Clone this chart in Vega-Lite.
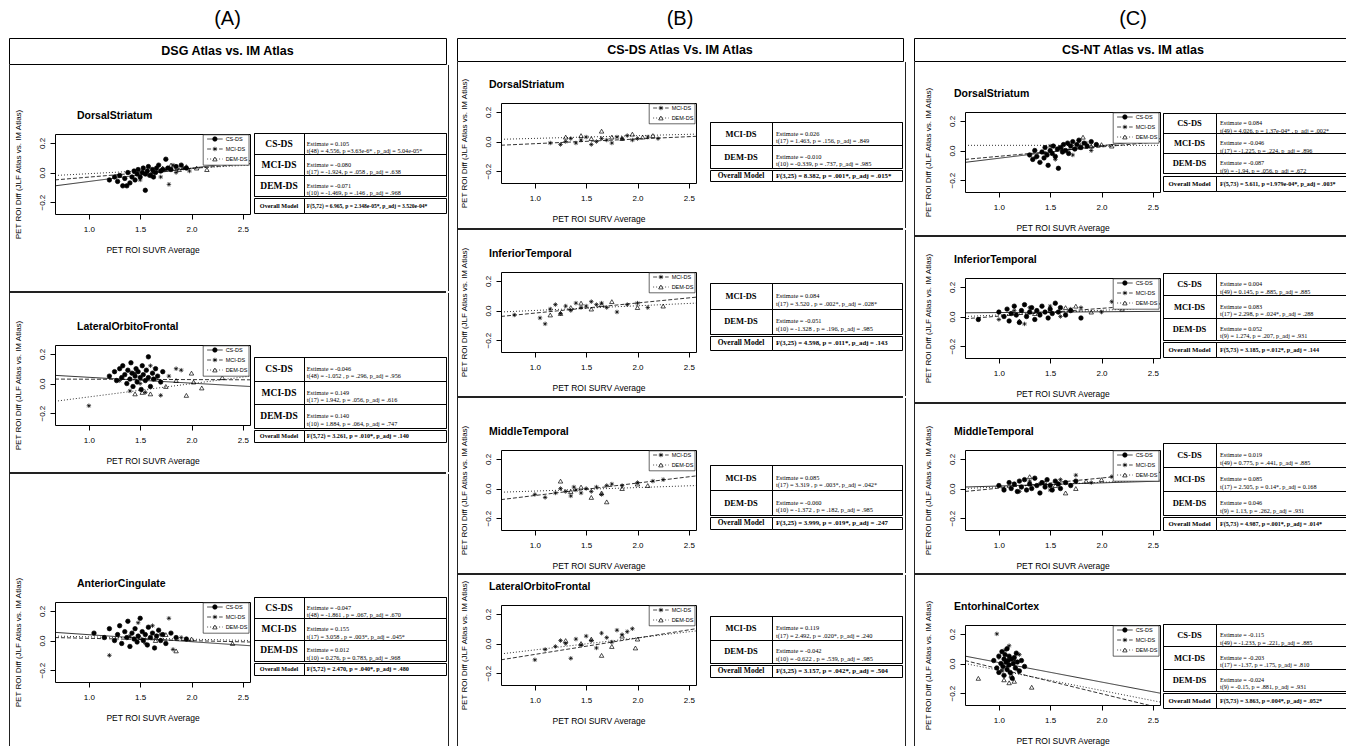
{
"$schema":"https://vega.github.io/schema/vega-lite/v6.json",
"padding":0,
"background":"white",
"config":{
 "view":{"stroke":null},
 "font":"Liberation Sans",
 "concat":{"spacing":0},
 "axis":{"domain":false,"grid":false,"labelColor":"black","tickColor":"black","titleColor":"black","labelFont":"Liberation Sans","titleFont":"Liberation Sans","titleFontWeight":"normal","labelFontSize":8,"titleFontSize":8,"tickSize":5,"labelPadding":4,"titlePadding":12,"labelFlush":false,"minExtent":0},
 "title":{"fontSize":10.5,"fontWeight":"bold","anchor":"start","frame":"group","offset":0,"color":"black","font":"Liberation Sans"},
 "point":{"opacity":1,"size":20,"strokeWidth":0.7},
 "line":{"strokeWidth":0.8,"color":"black"},
 "rule":{"color":"black"},
 "text":{"color":"black"}
},
"datasets":{
"leg":[
{"p":"A1","g":"CS-DS"},{"p":"A1","g":"MCI-DS"},{"p":"A1","g":"DEM-DS"},
{"p":"A2","g":"CS-DS"},{"p":"A2","g":"MCI-DS"},{"p":"A2","g":"DEM-DS"},
{"p":"A3","g":"CS-DS"},{"p":"A3","g":"MCI-DS"},{"p":"A3","g":"DEM-DS"},
{"p":"B1","g":"MCI-DS"},{"p":"B1","g":"DEM-DS"},
{"p":"B2","g":"MCI-DS"},{"p":"B2","g":"DEM-DS"},
{"p":"B3","g":"MCI-DS"},{"p":"B3","g":"DEM-DS"},
{"p":"B4","g":"MCI-DS"},{"p":"B4","g":"DEM-DS"},
{"p":"C1","g":"CS-DS"},{"p":"C1","g":"MCI-DS"},{"p":"C1","g":"DEM-DS"},
{"p":"C2","g":"CS-DS"},{"p":"C2","g":"MCI-DS"},{"p":"C2","g":"DEM-DS"},
{"p":"C3","g":"CS-DS"},{"p":"C3","g":"MCI-DS"},{"p":"C3","g":"DEM-DS"},
{"p":"C4","g":"CS-DS"},{"p":"C4","g":"MCI-DS"},{"p":"C4","g":"DEM-DS"}
],
"lns":[
{"p":"A1","g":"CS-DS","x":0.67,"y":-0.09},{"p":"A1","g":"CS-DS","x":2.57,"y":0.08},
{"p":"A1","g":"MCI-DS","x":0.67,"y":-0.05},{"p":"A1","g":"MCI-DS","x":2.57,"y":0.06},
{"p":"A1","g":"DEM-DS","x":0.67,"y":-0.02},{"p":"A1","g":"DEM-DS","x":2.57,"y":0.05},
{"p":"A2","g":"CS-DS","x":0.67,"y":0.055},{"p":"A2","g":"CS-DS","x":2.57,"y":-0.02},
{"p":"A2","g":"MCI-DS","x":0.67,"y":0.03},{"p":"A2","g":"MCI-DS","x":2.57,"y":0.025},
{"p":"A2","g":"DEM-DS","x":0.67,"y":-0.12},{"p":"A2","g":"DEM-DS","x":2.57,"y":0.05},
{"p":"A3","g":"CS-DS","x":0.67,"y":0.055},{"p":"A3","g":"CS-DS","x":2.57,"y":-0.035},
{"p":"A3","g":"MCI-DS","x":0.67,"y":0.02},{"p":"A3","g":"MCI-DS","x":2.57,"y":-0.01},
{"p":"A3","g":"DEM-DS","x":0.67,"y":0.03},{"p":"A3","g":"DEM-DS","x":2.57,"y":0.0},
{"p":"B1","g":"MCI-DS","x":0.67,"y":-0.025},{"p":"B1","g":"MCI-DS","x":2.57,"y":0.035},
{"p":"B1","g":"DEM-DS","x":0.67,"y":0.015},{"p":"B1","g":"DEM-DS","x":2.57,"y":0.05},
{"p":"B2","g":"MCI-DS","x":0.67,"y":-0.04},{"p":"B2","g":"MCI-DS","x":2.57,"y":0.09},
{"p":"B2","g":"DEM-DS","x":0.67,"y":-0.01},{"p":"B2","g":"DEM-DS","x":2.57,"y":0.05},
{"p":"B3","g":"MCI-DS","x":0.67,"y":-0.075},{"p":"B3","g":"MCI-DS","x":2.57,"y":0.085},
{"p":"B3","g":"DEM-DS","x":0.67,"y":-0.025},{"p":"B3","g":"DEM-DS","x":2.57,"y":0.02},
{"p":"B4","g":"MCI-DS","x":0.67,"y":-0.11},{"p":"B4","g":"MCI-DS","x":2.57,"y":0.1},
{"p":"B4","g":"DEM-DS","x":0.67,"y":-0.07},{"p":"B4","g":"DEM-DS","x":2.57,"y":0.085},
{"p":"C1","g":"CS-DS","x":0.67,"y":-0.08},{"p":"C1","g":"CS-DS","x":2.57,"y":0.08},
{"p":"C1","g":"MCI-DS","x":0.67,"y":-0.06},{"p":"C1","g":"MCI-DS","x":2.57,"y":0.06},
{"p":"C1","g":"DEM-DS","x":0.67,"y":0.035},{"p":"C1","g":"DEM-DS","x":2.57,"y":0.035},
{"p":"C2","g":"CS-DS","x":0.67,"y":0.025},{"p":"C2","g":"CS-DS","x":2.57,"y":0.035},
{"p":"C2","g":"MCI-DS","x":0.67,"y":-0.015},{"p":"C2","g":"MCI-DS","x":2.57,"y":0.085},
{"p":"C2","g":"DEM-DS","x":0.67,"y":0.0},{"p":"C2","g":"DEM-DS","x":2.57,"y":0.06},
{"p":"C3","g":"CS-DS","x":0.67,"y":0.01},{"p":"C3","g":"CS-DS","x":2.57,"y":0.05},
{"p":"C3","g":"MCI-DS","x":0.67,"y":-0.02},{"p":"C3","g":"MCI-DS","x":2.57,"y":0.11},
{"p":"C3","g":"DEM-DS","x":0.67,"y":0.0},{"p":"C3","g":"DEM-DS","x":2.57,"y":0.06},
{"p":"C4","g":"CS-DS","x":0.67,"y":0.05},{"p":"C4","g":"CS-DS","x":2.57,"y":-0.2},
{"p":"C4","g":"MCI-DS","x":0.67,"y":0.02},{"p":"C4","g":"MCI-DS","x":2.57,"y":-0.3},
{"p":"C4","g":"DEM-DS","x":0.67,"y":0.0},{"p":"C4","g":"DEM-DS","x":2.57,"y":-0.26}
],
"pts":[
{"p":"A1","g":"CS-DS","x":1.2,"y":-0.05},{"p":"A1","g":"CS-DS","x":1.25,"y":-0.03},{"p":"A1","g":"CS-DS","x":1.28,"y":-0.06},{"p":"A1","g":"CS-DS","x":1.3,"y":-0.02},{"p":"A1","g":"CS-DS","x":1.33,"y":-0.09},{"p":"A1","g":"CS-DS","x":1.35,"y":-0.04},{"p":"A1","g":"CS-DS","x":1.37,"y":-0.09},{"p":"A1","g":"CS-DS","x":1.38,"y":0.0},{"p":"A1","g":"CS-DS","x":1.4,"y":-0.07},{"p":"A1","g":"CS-DS","x":1.42,"y":-0.03},{"p":"A1","g":"CS-DS","x":1.44,"y":0.01},{"p":"A1","g":"CS-DS","x":1.45,"y":-0.05},{"p":"A1","g":"CS-DS","x":1.47,"y":-0.01},{"p":"A1","g":"CS-DS","x":1.48,"y":0.02},{"p":"A1","g":"CS-DS","x":1.5,"y":-0.03},{"p":"A1","g":"CS-DS","x":1.52,"y":0.0},{"p":"A1","g":"CS-DS","x":1.53,"y":0.03},{"p":"A1","g":"CS-DS","x":1.55,"y":-0.12},{"p":"A1","g":"CS-DS","x":1.55,"y":-0.01},{"p":"A1","g":"CS-DS","x":1.57,"y":0.01},{"p":"A1","g":"CS-DS","x":1.58,"y":0.04},{"p":"A1","g":"CS-DS","x":1.6,"y":-0.02},{"p":"A1","g":"CS-DS","x":1.62,"y":0.02},{"p":"A1","g":"CS-DS","x":1.63,"y":-0.03},{"p":"A1","g":"CS-DS","x":1.65,"y":0.0},{"p":"A1","g":"CS-DS","x":1.66,"y":0.03},{"p":"A1","g":"CS-DS","x":1.68,"y":0.05},{"p":"A1","g":"CS-DS","x":1.7,"y":0.01},{"p":"A1","g":"CS-DS","x":1.72,"y":0.02},{"p":"A1","g":"CS-DS","x":1.75,"y":0.09},{"p":"A1","g":"CS-DS","x":1.77,"y":0.03},{"p":"A1","g":"CS-DS","x":1.8,"y":0.02},{"p":"A1","g":"CS-DS","x":1.85,"y":0.04},{"p":"A1","g":"CS-DS","x":1.9,"y":0.05},{"p":"A1","g":"CS-DS","x":1.95,"y":0.03},
{"p":"A1","g":"MCI-DS","x":1.5,"y":-0.05},{"p":"A1","g":"MCI-DS","x":1.58,"y":-0.02},{"p":"A1","g":"MCI-DS","x":1.62,"y":0.0},{"p":"A1","g":"MCI-DS","x":1.7,"y":-0.03},{"p":"A1","g":"MCI-DS","x":1.75,"y":0.02},{"p":"A1","g":"MCI-DS","x":1.78,"y":-0.08},{"p":"A1","g":"MCI-DS","x":1.82,"y":0.05},{"p":"A1","g":"MCI-DS","x":1.85,"y":0.0},{"p":"A1","g":"MCI-DS","x":1.92,"y":0.03},{"p":"A1","g":"MCI-DS","x":1.98,"y":0.01},
{"p":"A1","g":"DEM-DS","x":1.72,"y":0.03},{"p":"A1","g":"DEM-DS","x":1.8,"y":0.05},{"p":"A1","g":"DEM-DS","x":1.88,"y":0.02},{"p":"A1","g":"DEM-DS","x":1.95,"y":0.04},{"p":"A1","g":"DEM-DS","x":2.05,"y":0.03},{"p":"A1","g":"DEM-DS","x":2.15,"y":0.02},
{"p":"A2","g":"CS-DS","x":1.2,"y":0.05},{"p":"A2","g":"CS-DS","x":1.25,"y":0.08},{"p":"A2","g":"CS-DS","x":1.27,"y":0.02},{"p":"A2","g":"CS-DS","x":1.3,"y":0.1},{"p":"A2","g":"CS-DS","x":1.32,"y":0.04},{"p":"A2","g":"CS-DS","x":1.33,"y":0.12},{"p":"A2","g":"CS-DS","x":1.35,"y":0.06},{"p":"A2","g":"CS-DS","x":1.37,"y":0.0},{"p":"A2","g":"CS-DS","x":1.38,"y":0.09},{"p":"A2","g":"CS-DS","x":1.4,"y":0.03},{"p":"A2","g":"CS-DS","x":1.41,"y":0.14},{"p":"A2","g":"CS-DS","x":1.42,"y":0.07},{"p":"A2","g":"CS-DS","x":1.43,"y":-0.02},{"p":"A2","g":"CS-DS","x":1.45,"y":0.05},{"p":"A2","g":"CS-DS","x":1.46,"y":0.1},{"p":"A2","g":"CS-DS","x":1.47,"y":0.01},{"p":"A2","g":"CS-DS","x":1.48,"y":0.08},{"p":"A2","g":"CS-DS","x":1.5,"y":0.04},{"p":"A2","g":"CS-DS","x":1.51,"y":-0.04},{"p":"A2","g":"CS-DS","x":1.52,"y":0.12},{"p":"A2","g":"CS-DS","x":1.53,"y":0.06},{"p":"A2","g":"CS-DS","x":1.55,"y":0.02},{"p":"A2","g":"CS-DS","x":1.56,"y":0.09},{"p":"A2","g":"CS-DS","x":1.58,"y":0.18},{"p":"A2","g":"CS-DS","x":1.58,"y":0.04},{"p":"A2","g":"CS-DS","x":1.6,"y":-0.02},{"p":"A2","g":"CS-DS","x":1.62,"y":0.07},{"p":"A2","g":"CS-DS","x":1.63,"y":0.03},{"p":"A2","g":"CS-DS","x":1.65,"y":0.1},{"p":"A2","g":"CS-DS","x":1.67,"y":0.05},{"p":"A2","g":"CS-DS","x":1.7,"y":0.01},{"p":"A2","g":"CS-DS","x":1.72,"y":0.08},
{"p":"A2","g":"MCI-DS","x":1.0,"y":-0.15},{"p":"A2","g":"MCI-DS","x":1.3,"y":0.02},{"p":"A2","g":"MCI-DS","x":1.4,"y":-0.05},{"p":"A2","g":"MCI-DS","x":1.45,"y":0.07},{"p":"A2","g":"MCI-DS","x":1.5,"y":0.0},{"p":"A2","g":"MCI-DS","x":1.55,"y":-0.06},{"p":"A2","g":"MCI-DS","x":1.6,"y":0.12},{"p":"A2","g":"MCI-DS","x":1.65,"y":0.03},{"p":"A2","g":"MCI-DS","x":1.7,"y":-0.08},{"p":"A2","g":"MCI-DS","x":1.78,"y":0.05},{"p":"A2","g":"MCI-DS","x":1.85,"y":0.1},{"p":"A2","g":"MCI-DS","x":1.9,"y":0.09},
{"p":"A2","g":"DEM-DS","x":1.45,"y":-0.07},{"p":"A2","g":"DEM-DS","x":1.52,"y":-0.06},{"p":"A2","g":"DEM-DS","x":1.6,"y":-0.07},{"p":"A2","g":"DEM-DS","x":1.75,"y":-0.02},{"p":"A2","g":"DEM-DS","x":1.85,"y":0.02},{"p":"A2","g":"DEM-DS","x":1.95,"y":-0.08},{"p":"A2","g":"DEM-DS","x":2.0,"y":0.07},{"p":"A2","g":"DEM-DS","x":2.02,"y":0.01},{"p":"A2","g":"DEM-DS","x":2.1,"y":-0.03},{"p":"A2","g":"DEM-DS","x":2.3,"y":0.04},
{"p":"A3","g":"CS-DS","x":1.05,"y":0.05},{"p":"A3","g":"CS-DS","x":1.15,"y":0.02},{"p":"A3","g":"CS-DS","x":1.2,"y":0.08},{"p":"A3","g":"CS-DS","x":1.25,"y":0.0},{"p":"A3","g":"CS-DS","x":1.28,"y":0.04},{"p":"A3","g":"CS-DS","x":1.3,"y":0.1},{"p":"A3","g":"CS-DS","x":1.32,"y":-0.02},{"p":"A3","g":"CS-DS","x":1.35,"y":0.06},{"p":"A3","g":"CS-DS","x":1.37,"y":0.02},{"p":"A3","g":"CS-DS","x":1.38,"y":0.13},{"p":"A3","g":"CS-DS","x":1.4,"y":-0.04},{"p":"A3","g":"CS-DS","x":1.42,"y":0.05},{"p":"A3","g":"CS-DS","x":1.44,"y":0.01},{"p":"A3","g":"CS-DS","x":1.45,"y":0.08},{"p":"A3","g":"CS-DS","x":1.47,"y":-0.01},{"p":"A3","g":"CS-DS","x":1.48,"y":0.03},{"p":"A3","g":"CS-DS","x":1.5,"y":0.15},{"p":"A3","g":"CS-DS","x":1.52,"y":0.06},{"p":"A3","g":"CS-DS","x":1.53,"y":0.0},{"p":"A3","g":"CS-DS","x":1.55,"y":0.04},{"p":"A3","g":"CS-DS","x":1.57,"y":-0.03},{"p":"A3","g":"CS-DS","x":1.58,"y":0.09},{"p":"A3","g":"CS-DS","x":1.6,"y":0.02},{"p":"A3","g":"CS-DS","x":1.62,"y":0.05},{"p":"A3","g":"CS-DS","x":1.64,"y":-0.05},{"p":"A3","g":"CS-DS","x":1.66,"y":0.03},{"p":"A3","g":"CS-DS","x":1.68,"y":0.07},{"p":"A3","g":"CS-DS","x":1.7,"y":0.0},{"p":"A3","g":"CS-DS","x":1.72,"y":0.04},{"p":"A3","g":"CS-DS","x":1.75,"y":-0.02},{"p":"A3","g":"CS-DS","x":1.8,"y":0.05},{"p":"A3","g":"CS-DS","x":1.85,"y":0.02},{"p":"A3","g":"CS-DS","x":1.95,"y":0.01},
{"p":"A3","g":"MCI-DS","x":1.2,"y":-0.1},{"p":"A3","g":"MCI-DS","x":1.4,"y":0.03},{"p":"A3","g":"MCI-DS","x":1.48,"y":0.12},{"p":"A3","g":"MCI-DS","x":1.55,"y":-0.02},{"p":"A3","g":"MCI-DS","x":1.62,"y":0.1},{"p":"A3","g":"MCI-DS","x":1.7,"y":0.04},{"p":"A3","g":"MCI-DS","x":1.78,"y":0.15},{"p":"A3","g":"MCI-DS","x":1.82,"y":-0.06},{"p":"A3","g":"MCI-DS","x":1.9,"y":0.02},{"p":"A3","g":"MCI-DS","x":2.2,"y":0.09},
{"p":"A3","g":"DEM-DS","x":1.5,"y":0.02},{"p":"A3","g":"DEM-DS","x":1.65,"y":0.0},{"p":"A3","g":"DEM-DS","x":1.75,"y":0.04},{"p":"A3","g":"DEM-DS","x":1.85,"y":-0.07},{"p":"A3","g":"DEM-DS","x":2.0,"y":0.01},{"p":"A3","g":"DEM-DS","x":2.4,"y":-0.02},
{"p":"B1","g":"MCI-DS","x":1.15,"y":-0.01},{"p":"B1","g":"MCI-DS","x":1.25,"y":-0.02},{"p":"B1","g":"MCI-DS","x":1.3,"y":0.0},{"p":"B1","g":"MCI-DS","x":1.35,"y":0.02},{"p":"B1","g":"MCI-DS","x":1.4,"y":-0.01},{"p":"B1","g":"MCI-DS","x":1.45,"y":0.01},{"p":"B1","g":"MCI-DS","x":1.5,"y":0.03},{"p":"B1","g":"MCI-DS","x":1.55,"y":-0.02},{"p":"B1","g":"MCI-DS","x":1.6,"y":0.0},{"p":"B1","g":"MCI-DS","x":1.65,"y":0.02},{"p":"B1","g":"MCI-DS","x":1.7,"y":0.01},{"p":"B1","g":"MCI-DS","x":1.75,"y":-0.01},{"p":"B1","g":"MCI-DS","x":1.8,"y":0.03},{"p":"B1","g":"MCI-DS","x":1.85,"y":0.02},{"p":"B1","g":"MCI-DS","x":1.9,"y":0.04},{"p":"B1","g":"MCI-DS","x":1.95,"y":0.01},{"p":"B1","g":"MCI-DS","x":2.0,"y":0.02},{"p":"B1","g":"MCI-DS","x":2.1,"y":0.03},{"p":"B1","g":"MCI-DS","x":2.2,"y":0.02},
{"p":"B1","g":"DEM-DS","x":1.3,"y":0.03},{"p":"B1","g":"DEM-DS","x":1.45,"y":0.04},{"p":"B1","g":"DEM-DS","x":1.55,"y":0.02},{"p":"B1","g":"DEM-DS","x":1.65,"y":0.07},{"p":"B1","g":"DEM-DS","x":1.75,"y":0.03},{"p":"B1","g":"DEM-DS","x":1.85,"y":0.02},{"p":"B1","g":"DEM-DS","x":1.95,"y":0.05},{"p":"B1","g":"DEM-DS","x":2.05,"y":0.03},{"p":"B1","g":"DEM-DS","x":2.15,"y":0.04},
{"p":"B2","g":"MCI-DS","x":0.8,"y":-0.03},{"p":"B2","g":"MCI-DS","x":1.05,"y":-0.05},{"p":"B2","g":"MCI-DS","x":1.1,"y":-0.09},{"p":"B2","g":"MCI-DS","x":1.15,"y":0.01},{"p":"B2","g":"MCI-DS","x":1.2,"y":0.04},{"p":"B2","g":"MCI-DS","x":1.25,"y":-0.02},{"p":"B2","g":"MCI-DS","x":1.3,"y":0.03},{"p":"B2","g":"MCI-DS","x":1.35,"y":0.0},{"p":"B2","g":"MCI-DS","x":1.4,"y":0.05},{"p":"B2","g":"MCI-DS","x":1.45,"y":0.02},{"p":"B2","g":"MCI-DS","x":1.5,"y":0.03},{"p":"B2","g":"MCI-DS","x":1.55,"y":0.06},{"p":"B2","g":"MCI-DS","x":1.6,"y":0.04},{"p":"B2","g":"MCI-DS","x":1.65,"y":0.05},{"p":"B2","g":"MCI-DS","x":1.7,"y":0.02},{"p":"B2","g":"MCI-DS","x":1.8,"y":-0.01},{"p":"B2","g":"MCI-DS","x":1.9,"y":0.04},{"p":"B2","g":"MCI-DS","x":2.0,"y":0.05},{"p":"B2","g":"MCI-DS","x":2.1,"y":0.02},
{"p":"B2","g":"DEM-DS","x":1.15,"y":-0.03},{"p":"B2","g":"DEM-DS","x":1.25,"y":-0.02},{"p":"B2","g":"DEM-DS","x":1.35,"y":0.02},{"p":"B2","g":"DEM-DS","x":1.45,"y":0.05},{"p":"B2","g":"DEM-DS","x":1.55,"y":0.01},{"p":"B2","g":"DEM-DS","x":1.65,"y":0.04},{"p":"B2","g":"DEM-DS","x":1.75,"y":0.06},{"p":"B2","g":"DEM-DS","x":2.0,"y":0.02},{"p":"B2","g":"DEM-DS","x":2.25,"y":0.03},
{"p":"B3","g":"MCI-DS","x":1.0,"y":-0.04},{"p":"B3","g":"MCI-DS","x":1.1,"y":-0.06},{"p":"B3","g":"MCI-DS","x":1.2,"y":-0.03},{"p":"B3","g":"MCI-DS","x":1.25,"y":0.0},{"p":"B3","g":"MCI-DS","x":1.3,"y":-0.02},{"p":"B3","g":"MCI-DS","x":1.35,"y":-0.05},{"p":"B3","g":"MCI-DS","x":1.38,"y":0.01},{"p":"B3","g":"MCI-DS","x":1.4,"y":-0.01},{"p":"B3","g":"MCI-DS","x":1.45,"y":-0.03},{"p":"B3","g":"MCI-DS","x":1.5,"y":0.0},{"p":"B3","g":"MCI-DS","x":1.55,"y":-0.02},{"p":"B3","g":"MCI-DS","x":1.6,"y":0.01},{"p":"B3","g":"MCI-DS","x":1.65,"y":-0.04},{"p":"B3","g":"MCI-DS","x":1.7,"y":0.02},{"p":"B3","g":"MCI-DS","x":1.75,"y":0.03},{"p":"B3","g":"MCI-DS","x":1.85,"y":0.02},{"p":"B3","g":"MCI-DS","x":2.0,"y":0.04},{"p":"B3","g":"MCI-DS","x":2.15,"y":0.05},{"p":"B3","g":"MCI-DS","x":2.25,"y":0.06},
{"p":"B3","g":"DEM-DS","x":1.25,"y":0.05},{"p":"B3","g":"DEM-DS","x":1.35,"y":-0.02},{"p":"B3","g":"DEM-DS","x":1.45,"y":0.01},{"p":"B3","g":"DEM-DS","x":1.55,"y":-0.06},{"p":"B3","g":"DEM-DS","x":1.65,"y":-0.03},{"p":"B3","g":"DEM-DS","x":1.7,"y":-0.09},{"p":"B3","g":"DEM-DS","x":1.85,"y":0.0},{"p":"B3","g":"DEM-DS","x":2.0,"y":0.03},{"p":"B3","g":"DEM-DS","x":2.1,"y":0.02},
{"p":"B4","g":"MCI-DS","x":1.0,"y":-0.11},{"p":"B4","g":"MCI-DS","x":1.1,"y":-0.04},{"p":"B4","g":"MCI-DS","x":1.2,"y":-0.02},{"p":"B4","g":"MCI-DS","x":1.25,"y":0.02},{"p":"B4","g":"MCI-DS","x":1.3,"y":0.0},{"p":"B4","g":"MCI-DS","x":1.35,"y":-0.1},{"p":"B4","g":"MCI-DS","x":1.4,"y":0.03},{"p":"B4","g":"MCI-DS","x":1.45,"y":-0.01},{"p":"B4","g":"MCI-DS","x":1.5,"y":0.05},{"p":"B4","g":"MCI-DS","x":1.55,"y":0.02},{"p":"B4","g":"MCI-DS","x":1.6,"y":-0.03},{"p":"B4","g":"MCI-DS","x":1.65,"y":0.07},{"p":"B4","g":"MCI-DS","x":1.7,"y":0.04},{"p":"B4","g":"MCI-DS","x":1.75,"y":0.01},{"p":"B4","g":"MCI-DS","x":1.8,"y":0.09},{"p":"B4","g":"MCI-DS","x":1.85,"y":0.06},{"p":"B4","g":"MCI-DS","x":1.9,"y":0.08},{"p":"B4","g":"MCI-DS","x":1.95,"y":0.1},
{"p":"B4","g":"DEM-DS","x":1.3,"y":0.02},{"p":"B4","g":"DEM-DS","x":1.45,"y":0.0},{"p":"B4","g":"DEM-DS","x":1.55,"y":0.03},{"p":"B4","g":"DEM-DS","x":1.65,"y":-0.08},{"p":"B4","g":"DEM-DS","x":1.75,"y":-0.02},{"p":"B4","g":"DEM-DS","x":1.85,"y":0.05},{"p":"B4","g":"DEM-DS","x":1.98,"y":-0.03},{"p":"B4","g":"DEM-DS","x":2.0,"y":0.03},
{"p":"C1","g":"CS-DS","x":1.3,"y":-0.03},{"p":"C1","g":"CS-DS","x":1.33,"y":-0.06},{"p":"C1","g":"CS-DS","x":1.35,"y":0.0},{"p":"C1","g":"CS-DS","x":1.37,"y":-0.04},{"p":"C1","g":"CS-DS","x":1.4,"y":-0.08},{"p":"C1","g":"CS-DS","x":1.42,"y":-0.01},{"p":"C1","g":"CS-DS","x":1.44,"y":-0.05},{"p":"C1","g":"CS-DS","x":1.45,"y":0.02},{"p":"C1","g":"CS-DS","x":1.47,"y":-0.03},{"p":"C1","g":"CS-DS","x":1.48,"y":-0.1},{"p":"C1","g":"CS-DS","x":1.5,"y":0.0},{"p":"C1","g":"CS-DS","x":1.52,"y":-0.02},{"p":"C1","g":"CS-DS","x":1.53,"y":0.03},{"p":"C1","g":"CS-DS","x":1.55,"y":-0.04},{"p":"C1","g":"CS-DS","x":1.57,"y":0.01},{"p":"C1","g":"CS-DS","x":1.58,"y":-0.12},{"p":"C1","g":"CS-DS","x":1.6,"y":0.02},{"p":"C1","g":"CS-DS","x":1.62,"y":-0.01},{"p":"C1","g":"CS-DS","x":1.63,"y":0.04},{"p":"C1","g":"CS-DS","x":1.65,"y":0.0},{"p":"C1","g":"CS-DS","x":1.67,"y":0.05},{"p":"C1","g":"CS-DS","x":1.68,"y":-0.02},{"p":"C1","g":"CS-DS","x":1.7,"y":0.03},{"p":"C1","g":"CS-DS","x":1.72,"y":0.06},{"p":"C1","g":"CS-DS","x":1.74,"y":0.01},{"p":"C1","g":"CS-DS","x":1.76,"y":0.04},{"p":"C1","g":"CS-DS","x":1.78,"y":0.07},{"p":"C1","g":"CS-DS","x":1.8,"y":0.02},{"p":"C1","g":"CS-DS","x":1.83,"y":0.05},{"p":"C1","g":"CS-DS","x":1.86,"y":0.03},{"p":"C1","g":"CS-DS","x":1.9,"y":0.06},{"p":"C1","g":"CS-DS","x":1.95,"y":0.04},
{"p":"C1","g":"MCI-DS","x":1.35,"y":-0.05},{"p":"C1","g":"MCI-DS","x":1.45,"y":-0.02},{"p":"C1","g":"MCI-DS","x":1.5,"y":0.03},{"p":"C1","g":"MCI-DS","x":1.55,"y":-0.06},{"p":"C1","g":"MCI-DS","x":1.62,"y":0.01},{"p":"C1","g":"MCI-DS","x":1.68,"y":0.04},{"p":"C1","g":"MCI-DS","x":1.72,"y":-0.03},{"p":"C1","g":"MCI-DS","x":1.78,"y":0.02},{"p":"C1","g":"MCI-DS","x":1.85,"y":0.05},{"p":"C1","g":"MCI-DS","x":1.9,"y":0.0},
{"p":"C1","g":"DEM-DS","x":1.7,"y":0.02},{"p":"C1","g":"DEM-DS","x":1.78,"y":0.05},{"p":"C1","g":"DEM-DS","x":1.82,"y":0.09},{"p":"C1","g":"DEM-DS","x":1.9,"y":0.03},{"p":"C1","g":"DEM-DS","x":2.0,"y":0.04},{"p":"C1","g":"DEM-DS","x":2.1,"y":0.03},
{"p":"C2","g":"CS-DS","x":0.8,"y":-0.02},{"p":"C2","g":"CS-DS","x":1.0,"y":0.03},{"p":"C2","g":"CS-DS","x":1.05,"y":0.0},{"p":"C2","g":"CS-DS","x":1.08,"y":0.05},{"p":"C2","g":"CS-DS","x":1.1,"y":-0.03},{"p":"C2","g":"CS-DS","x":1.12,"y":0.02},{"p":"C2","g":"CS-DS","x":1.15,"y":0.07},{"p":"C2","g":"CS-DS","x":1.17,"y":0.01},{"p":"C2","g":"CS-DS","x":1.2,"y":-0.04},{"p":"C2","g":"CS-DS","x":1.22,"y":0.04},{"p":"C2","g":"CS-DS","x":1.25,"y":0.08},{"p":"C2","g":"CS-DS","x":1.27,"y":0.0},{"p":"C2","g":"CS-DS","x":1.3,"y":0.03},{"p":"C2","g":"CS-DS","x":1.32,"y":0.06},{"p":"C2","g":"CS-DS","x":1.35,"y":-0.02},{"p":"C2","g":"CS-DS","x":1.37,"y":0.04},{"p":"C2","g":"CS-DS","x":1.4,"y":0.01},{"p":"C2","g":"CS-DS","x":1.42,"y":0.07},{"p":"C2","g":"CS-DS","x":1.45,"y":0.03},{"p":"C2","g":"CS-DS","x":1.48,"y":-0.01},{"p":"C2","g":"CS-DS","x":1.5,"y":0.05},{"p":"C2","g":"CS-DS","x":1.52,"y":0.02},{"p":"C2","g":"CS-DS","x":1.55,"y":0.09},{"p":"C2","g":"CS-DS","x":1.58,"y":0.03},{"p":"C2","g":"CS-DS","x":1.6,"y":0.06},{"p":"C2","g":"CS-DS","x":1.65,"y":0.01},{"p":"C2","g":"CS-DS","x":1.7,"y":0.04},{"p":"C2","g":"CS-DS","x":1.8,"y":-0.01},
{"p":"C2","g":"MCI-DS","x":1.0,"y":-0.02},{"p":"C2","g":"MCI-DS","x":1.15,"y":0.04},{"p":"C2","g":"MCI-DS","x":1.25,"y":-0.05},{"p":"C2","g":"MCI-DS","x":1.3,"y":0.06},{"p":"C2","g":"MCI-DS","x":1.4,"y":0.02},{"p":"C2","g":"MCI-DS","x":1.5,"y":0.07},{"p":"C2","g":"MCI-DS","x":1.6,"y":0.0},{"p":"C2","g":"MCI-DS","x":1.7,"y":0.05},{"p":"C2","g":"MCI-DS","x":1.8,"y":0.06},{"p":"C2","g":"MCI-DS","x":2.0,"y":0.03},{"p":"C2","g":"MCI-DS","x":2.1,"y":0.1},
{"p":"C2","g":"DEM-DS","x":1.2,"y":-0.03},{"p":"C2","g":"DEM-DS","x":1.35,"y":0.02},{"p":"C2","g":"DEM-DS","x":1.5,"y":0.04},{"p":"C2","g":"DEM-DS","x":1.65,"y":0.06},{"p":"C2","g":"DEM-DS","x":1.75,"y":0.07},{"p":"C2","g":"DEM-DS","x":1.9,"y":0.03},{"p":"C2","g":"DEM-DS","x":2.2,"y":0.05},
{"p":"C3","g":"CS-DS","x":1.0,"y":0.02},{"p":"C3","g":"CS-DS","x":1.05,"y":-0.01},{"p":"C3","g":"CS-DS","x":1.1,"y":0.04},{"p":"C3","g":"CS-DS","x":1.12,"y":0.0},{"p":"C3","g":"CS-DS","x":1.15,"y":0.03},{"p":"C3","g":"CS-DS","x":1.18,"y":-0.02},{"p":"C3","g":"CS-DS","x":1.2,"y":0.05},{"p":"C3","g":"CS-DS","x":1.22,"y":0.01},{"p":"C3","g":"CS-DS","x":1.25,"y":0.06},{"p":"C3","g":"CS-DS","x":1.27,"y":-0.01},{"p":"C3","g":"CS-DS","x":1.3,"y":0.03},{"p":"C3","g":"CS-DS","x":1.32,"y":0.0},{"p":"C3","g":"CS-DS","x":1.35,"y":0.07},{"p":"C3","g":"CS-DS","x":1.37,"y":0.02},{"p":"C3","g":"CS-DS","x":1.4,"y":-0.03},{"p":"C3","g":"CS-DS","x":1.42,"y":0.04},{"p":"C3","g":"CS-DS","x":1.45,"y":0.01},{"p":"C3","g":"CS-DS","x":1.47,"y":0.06},{"p":"C3","g":"CS-DS","x":1.5,"y":0.02},{"p":"C3","g":"CS-DS","x":1.52,"y":-0.01},{"p":"C3","g":"CS-DS","x":1.55,"y":0.05},{"p":"C3","g":"CS-DS","x":1.58,"y":0.03},{"p":"C3","g":"CS-DS","x":1.6,"y":0.0},{"p":"C3","g":"CS-DS","x":1.65,"y":0.04},{"p":"C3","g":"CS-DS","x":1.7,"y":0.02},{"p":"C3","g":"CS-DS","x":1.75,"y":0.05},
{"p":"C3","g":"MCI-DS","x":1.05,"y":0.0},{"p":"C3","g":"MCI-DS","x":1.2,"y":-0.02},{"p":"C3","g":"MCI-DS","x":1.3,"y":0.05},{"p":"C3","g":"MCI-DS","x":1.4,"y":0.03},{"p":"C3","g":"MCI-DS","x":1.5,"y":-0.01},{"p":"C3","g":"MCI-DS","x":1.6,"y":0.06},{"p":"C3","g":"MCI-DS","x":1.75,"y":0.09},{"p":"C3","g":"MCI-DS","x":1.9,"y":0.04},{"p":"C3","g":"MCI-DS","x":2.1,"y":0.08},{"p":"C3","g":"MCI-DS","x":2.25,"y":0.1},
{"p":"C3","g":"DEM-DS","x":1.3,"y":0.08},{"p":"C3","g":"DEM-DS","x":1.45,"y":0.04},{"p":"C3","g":"DEM-DS","x":1.55,"y":0.02},{"p":"C3","g":"DEM-DS","x":1.65,"y":-0.03},{"p":"C3","g":"DEM-DS","x":1.75,"y":0.0},{"p":"C3","g":"DEM-DS","x":1.85,"y":0.05},{"p":"C3","g":"DEM-DS","x":2.0,"y":0.06},
{"p":"C4","g":"CS-DS","x":0.95,"y":0.02},{"p":"C4","g":"CS-DS","x":0.98,"y":-0.03},{"p":"C4","g":"CS-DS","x":1.0,"y":0.05},{"p":"C4","g":"CS-DS","x":1.0,"y":-0.06},{"p":"C4","g":"CS-DS","x":1.02,"y":0.0},{"p":"C4","g":"CS-DS","x":1.03,"y":0.08},{"p":"C4","g":"CS-DS","x":1.04,"y":-0.02},{"p":"C4","g":"CS-DS","x":1.05,"y":0.03},{"p":"C4","g":"CS-DS","x":1.05,"y":-0.08},{"p":"C4","g":"CS-DS","x":1.06,"y":0.06},{"p":"C4","g":"CS-DS","x":1.07,"y":0.01},{"p":"C4","g":"CS-DS","x":1.08,"y":-0.04},{"p":"C4","g":"CS-DS","x":1.08,"y":0.1},{"p":"C4","g":"CS-DS","x":1.09,"y":0.02},{"p":"C4","g":"CS-DS","x":1.1,"y":-0.01},{"p":"C4","g":"CS-DS","x":1.1,"y":0.05},{"p":"C4","g":"CS-DS","x":1.11,"y":-0.06},{"p":"C4","g":"CS-DS","x":1.12,"y":0.03},{"p":"C4","g":"CS-DS","x":1.13,"y":-0.1},{"p":"C4","g":"CS-DS","x":1.14,"y":0.0},{"p":"C4","g":"CS-DS","x":1.15,"y":0.04},{"p":"C4","g":"CS-DS","x":1.16,"y":-0.03},{"p":"C4","g":"CS-DS","x":1.17,"y":0.07},{"p":"C4","g":"CS-DS","x":1.18,"y":0.01},{"p":"C4","g":"CS-DS","x":1.2,"y":-0.05},{"p":"C4","g":"CS-DS","x":1.22,"y":0.02},{"p":"C4","g":"CS-DS","x":1.25,"y":-0.02},
{"p":"C4","g":"MCI-DS","x":0.98,"y":0.2},{"p":"C4","g":"MCI-DS","x":1.0,"y":0.04},{"p":"C4","g":"MCI-DS","x":1.03,"y":-0.05},{"p":"C4","g":"MCI-DS","x":1.06,"y":0.09},{"p":"C4","g":"MCI-DS","x":1.08,"y":-0.02},{"p":"C4","g":"MCI-DS","x":1.1,"y":0.12},{"p":"C4","g":"MCI-DS","x":1.12,"y":-0.07},{"p":"C4","g":"MCI-DS","x":1.15,"y":0.02},{"p":"C4","g":"MCI-DS","x":1.18,"y":-0.04},{"p":"C4","g":"MCI-DS","x":1.2,"y":0.06},
{"p":"C4","g":"DEM-DS","x":0.8,"y":-0.1},{"p":"C4","g":"DEM-DS","x":1.05,"y":-0.11},{"p":"C4","g":"DEM-DS","x":1.1,"y":-0.13},{"p":"C4","g":"DEM-DS","x":1.12,"y":-0.08},{"p":"C4","g":"DEM-DS","x":1.15,"y":-0.12},{"p":"C4","g":"DEM-DS","x":1.32,"y":-0.16}
],
"tbl":[
{"p":"A1","r":"CS-DS","t":"Estimate = 0.105\nt(48) = 4.556, p =3.63e-6* , p_adj = 5.04e-05*"},
{"p":"A1","r":"MCI-DS","t":"Estimate = -0.080\nt(17) = -1.924, p = .058 , p_adj = .638"},
{"p":"A1","r":"DEM-DS","t":"Estimate = -0.071\nt(10) = -1.469, p = .146 , p_adj = .968"},
{"p":"A1","r":"Overall Model","t":"F(5,72) = 6.965, p = 2.348e-05*, p_adj = 3.520e-04*"},
{"p":"A2","r":"CS-DS","t":"Estimate = -0.046\nt(48) = -1.052 , p = .296, p_adj = .956"},
{"p":"A2","r":"MCI-DS","t":"Estimate = 0.149\nt(17) = 1.942, p = .056, p_adj = .616"},
{"p":"A2","r":"DEM-DS","t":"Estimate = 0.140\nt(10) = 1.884, p = .064, p_adj = .747"},
{"p":"A2","r":"Overall Model","t":"F(5,72) = 3.261, p = .010*, p_adj = .140"},
{"p":"A3","r":"CS-DS","t":"Estimate = -0.047\nt(48) = -1.861 , p = .067, p_adj = .670"},
{"p":"A3","r":"MCI-DS","t":"Estimate = 0.155\nt(17) = 3.058 , p = .003*, p_adj = .045*"},
{"p":"A3","r":"DEM-DS","t":"Estimate = 0.012\nt(10) = 0.276, p = 0.783, p_adj = .968"},
{"p":"A3","r":"Overall Model","t":"F(5,72) = 2.470, p = .040*, p_adj = .480"},
{"p":"B1","r":"MCI-DS","t":"Estimate = 0.026\nt(17) = 1.463, p = .156, p_adj = .849"},
{"p":"B1","r":"DEM-DS","t":"Estimate = -0.010\nt(10) = -0.339, p = .737, p_adj = .985"},
{"p":"B1","r":"Overall Model","t":"F(3,25) = 8.382, p = .001*, p_adj = .015*"},
{"p":"B2","r":"MCI-DS","t":"Estimate = 0.084\nt(17) = 3.520 , p = .002*, p_adj = .028*"},
{"p":"B2","r":"DEM-DS","t":"Estimate = -0.051\nt(10) = -1.328 , p = .196, p_adj = .985"},
{"p":"B2","r":"Overall Model","t":"F(3,25) = 4.598, p = .011*, p_adj = .143"},
{"p":"B3","r":"MCI-DS","t":"Estimate = 0.085\nt(17) = 3.319 , p = .003*, p_adj = .042*"},
{"p":"B3","r":"DEM-DS","t":"Estimate = -0.060\nt(10) = -1.372 , p = .182, p_adj = .985"},
{"p":"B3","r":"Overall Model","t":"F(3,25) = 3.999, p = .019*, p_adj = .247"},
{"p":"B4","r":"MCI-DS","t":"Estimate = 0.119\nt(17) = 2.492, p = .020*, p_adj = .240"},
{"p":"B4","r":"DEM-DS","t":"Estimate = -0.042\nt(10) = -0.622 , p = .539, p_adj = .985"},
{"p":"B4","r":"Overall Model","t":"F(3,25) = 3.157, p = .042*, p_adj = .504"},
{"p":"C1","r":"CS-DS","t":"Estimate = 0.084\nt(49) = 4.026, p = 1.37e-04* , p_adj = .002*"},
{"p":"C1","r":"MCI-DS","t":"Estimate = -0.046\nt(17) = -1.225, p = .224, p_adj = .896"},
{"p":"C1","r":"DEM-DS","t":"Estimate = -0.087\nt(9) = -1.94, p = .056, p_adj = .672"},
{"p":"C1","r":"Overall Model","t":"F(5,73) = 5.611, p =1.979e-04*, p_adj = .003*"},
{"p":"C2","r":"CS-DS","t":"Estimate = 0.004\nt(49) = 0.145, p = .885, p_adj = .885"},
{"p":"C2","r":"MCI-DS","t":"Estimate = 0.083\nt(17) = 2.298, p = .024*, p_adj = .288"},
{"p":"C2","r":"DEM-DS","t":"Estimate = 0.052\nt(9) = 1.274, p = .207, p_adj = .931"},
{"p":"C2","r":"Overall Model","t":"F(5,73) = 3.185, p =.012*, p_adj = .144"},
{"p":"C3","r":"CS-DS","t":"Estimate = 0.019\nt(49) = 0.775, p = .441, p_adj = .885"},
{"p":"C3","r":"MCI-DS","t":"Estimate = 0.085\nt(17) = 2.505, p = 0.14*, p_adj = 0.168"},
{"p":"C3","r":"DEM-DS","t":"Estimate = 0.046\nt(9) = 1.13, p = .262, p_adj = .931"},
{"p":"C3","r":"Overall Model","t":"F(5,73) = 4.987, p =.001*, p_adj = .014*"},
{"p":"C4","r":"CS-DS","t":"Estimate = -0.115\nt(49) = -1.233, p = .221, p_adj = .885"},
{"p":"C4","r":"MCI-DS","t":"Estimate = -0.203\nt(17) = -1.37, p = .175, p_adj = .810"},
{"p":"C4","r":"DEM-DS","t":"Estimate = -0.024\nt(9) = -0.15, p = .881, p_adj = .931"},
{"p":"C4","r":"Overall Model","t":"F(5,73) = 3.863, p =.004*, p_adj = .052*"}
]
},
"hconcat":[
{"width":8,"height":1,"data":{"values":[]},"mark":"point"},
{"vconcat":[
 {"width":437,"height":37,"data":{"values":[{"t":"(A)"}]},"mark":{"type":"text","fontSize":20},"encoding":{"text":{"field":"t"}}},
 {"width":437,"height":26,"view":{"stroke":"black"},"data":{"values":[{"t":"DSG Atlas vs. IM Atlas"}]},"mark":{"type":"text","fontSize":12.5,"fontWeight":"bold"},"encoding":{"text":{"field":"t"}}},
 {"hconcat":[
  {"width":1,"height":226,"data":{"values":[]},"mark":"point","view":{"fill":"#222"}},
  {"width":3,"height":1,"data":{"values":[]},"mark":"point"},
  {"bounds":"flush","vconcat":[
   {"width":195,"height":69,"data":{"values":[]},"mark":"point"},
   {"width":195,"height":80,"view":{"stroke":"black"},"title":{"text":"DorsalStriatum","dx":22,"dy":17},"resolve":{"scale":{"x":"independent","y":"independent"}},
    "layer":[
     {"data":{"name":"lns"},"transform":[{"filter":"datum.p=='A1'"}],"mark":{"type":"line","clip":true},"encoding":{"x":{"field":"x","type":"quantitative","scale":{"domain":[0.67,2.57],"nice":false,"zero":false},"axis":{"values":[1,1.5,2,2.5],"format":".1f","title":"PET ROI SUVR Average","labelPadding":6,"titlePadding":12,"titleFontSize":8.5}},"y":{"field":"y","type":"quantitative","scale":{"domain":[-0.28,0.26],"nice":false,"zero":false},"axis":{"values":[-0.2,0,0.2],"format":".1f","title":"PET ROI Diff (JLF Atlas vs. IM Atlas)","labelAngle":-90,"labelAlign":"center","labelBaseline":"bottom","minExtent":17,"maxExtent":17,"titlePadding":16}},"detail":{"field":"g"},"strokeDash":{"field":"g","scale":{"domain":["CS-DS","MCI-DS","DEM-DS"],"range":[[1,0],[4,2],[1,2]]},"legend":null}}},
     {"data":{"name":"pts"},"transform":[{"filter":"datum.p=='A1'"}],"mark":{"type":"point","stroke":"black","clip":true},"encoding":{"x":{"field":"x","type":"quantitative","scale":{"domain":[0.67,2.57],"nice":false,"zero":false},"axis":null},"y":{"field":"y","type":"quantitative","scale":{"domain":[-0.28,0.26],"nice":false,"zero":false},"axis":null},"shape":{"field":"g","scale":{"domain":["CS-DS","MCI-DS","DEM-DS"],"range":["circle","M-1,0H1M0,-1V1M-0.7,-0.7L0.7,0.7M-0.7,0.7L0.7,-0.7","triangle-up"]},"legend":null},"fill":{"field":"g","scale":{"domain":["CS-DS","MCI-DS","DEM-DS"],"range":["black","transparent","transparent"]},"legend":null}}},
     {"data":{"values":[{}]},"mark":{"type":"rect","fill":"white","stroke":"black","strokeWidth":0.6},"encoding":{"x":{"datum":0.76,"type":"quantitative","scale":{"domain":[0,1]},"axis":null},"x2":{"datum":0.995},"y":{"datum":0.99,"type":"quantitative","scale":{"domain":[0,1]},"axis":null},"y2":{"datum":0.61}}},
     {"data":{"name":"leg"},"transform":[{"filter":"datum.p=='A1'"}],"mark":{"type":"rule","strokeWidth":0.7},"encoding":{"x":{"datum":0.78,"type":"quantitative","scale":{"domain":[0,1]},"axis":null},"x2":{"datum":0.86},"y":{"field":"g","type":"nominal","scale":{"type":"point","domain":["CS-DS","MCI-DS","DEM-DS","a","b","c","d","e"],"padding":0.5},"axis":null},"strokeDash":{"field":"g","scale":{"domain":["CS-DS","MCI-DS","DEM-DS"],"range":[[1,0],[4,2],[1,2]]},"legend":null}}},
     {"data":{"name":"leg"},"transform":[{"filter":"datum.p=='A1'"}],"mark":{"type":"point","stroke":"black"},"encoding":{"x":{"datum":0.82,"type":"quantitative","scale":{"domain":[0,1]},"axis":null},"y":{"field":"g","type":"nominal","scale":{"type":"point","domain":["CS-DS","MCI-DS","DEM-DS","a","b","c","d","e"],"padding":0.5},"axis":null},"shape":{"field":"g","scale":{"domain":["CS-DS","MCI-DS","DEM-DS"],"range":["circle","M-1,0H1M0,-1V1M-0.7,-0.7L0.7,0.7M-0.7,0.7L0.7,-0.7","triangle-up"]},"legend":null},"fill":{"field":"g","scale":{"domain":["CS-DS","MCI-DS","DEM-DS"],"range":["black","transparent","transparent"]},"legend":null}}},
     {"data":{"name":"leg"},"transform":[{"filter":"datum.p=='A1'"}],"mark":{"type":"text","fontSize":5.5,"align":"left"},"encoding":{"x":{"datum":0.875,"type":"quantitative","scale":{"domain":[0,1]},"axis":null},"y":{"field":"g","type":"nominal","scale":{"type":"point","domain":["CS-DS","MCI-DS","DEM-DS","a","b","c","d","e"],"padding":0.5},"axis":null},"text":{"field":"g"}}}
    ]}
  ]},
  {"width":2,"height":1,"data":{"values":[]},"mark":"point"},
  {"vconcat":[
   {"width":192,"height":67,"data":{"values":[]},"mark":"point"},
   {"bounds":"flush","hconcat":[
    {"width":50,"height":63,"view":{"stroke":"black"},"data":{"name":"tbl"},"transform":[{"filter":"datum.p=='A1' && datum.r!='Overall Model'"}],"mark":{"type":"text","font":"Liberation Serif","fontWeight":"bold","fontSize":9.5},"encoding":{"y":{"field":"r","type":"nominal","sort":null,"scale":{"paddingInner":0,"paddingOuter":0},"axis":{"title":null,"labels":false,"ticks":false,"domain":false,"grid":true,"tickBand":"extent","gridColor":"black","gridOpacity":1,"gridWidth":1}},"text":{"field":"r"}}},
    {"width":142,"height":63,"view":{"stroke":"black"},"data":{"name":"tbl"},"transform":[{"filter":"datum.p=='A1' && datum.r!='Overall Model'"}],"mark":{"type":"text","font":"Liberation Serif","fontSize":6.2,"align":"left","lineBreak":"\n","lineHeight":7.5},"encoding":{"x":{"datum":0.02,"type":"quantitative","scale":{"domain":[0,1]},"axis":null},"y":{"field":"r","type":"nominal","sort":null,"scale":{"paddingInner":0,"paddingOuter":0},"axis":{"title":null,"labels":false,"ticks":false,"domain":false,"grid":true,"tickBand":"extent","gridColor":"black","gridOpacity":1,"gridWidth":1}},"text":{"field":"t"}}}
   ]},
   {"bounds":"flush","hconcat":[
    {"width":50,"height":15,"view":{"stroke":"black"},"data":{"name":"tbl"},"transform":[{"filter":"datum.p=='A1' && datum.r=='Overall Model'"}],"mark":{"type":"text","font":"Liberation Serif","fontWeight":"bold","fontSize":6.2},"encoding":{"text":{"field":"r"}}},
    {"width":142,"height":15,"view":{"stroke":"black"},"data":{"name":"tbl"},"transform":[{"filter":"datum.p=='A1' && datum.r=='Overall Model'"}],"mark":{"type":"text","font":"Liberation Serif","fontWeight":"bold","fontSize":5.6,"align":"left"},"encoding":{"x":{"datum":0.02,"type":"quantitative","scale":{"domain":[0,1]},"axis":null},"text":{"field":"t"}}}
   ]}
  ]},
  {"width":1,"height":1,"data":{"values":[]},"mark":"point"},
  {"width":1,"height":226,"data":{"values":[]},"mark":"point","view":{"fill":"#222"}}
 ]},
 {"width":437,"height":2,"data":{"values":[]},"mark":"point","view":{"fill":"#222"}},
 {"hconcat":[
  {"width":1,"height":179,"data":{"values":[]},"mark":"point","view":{"fill":"#222"}},
  {"width":3,"height":1,"data":{"values":[]},"mark":"point"},
  {"bounds":"flush","vconcat":[
   {"width":195,"height":52,"data":{"values":[]},"mark":"point"},
   {"width":195,"height":80,"view":{"stroke":"black"},"title":{"text":"LateralOrbitoFrontal","dx":22,"dy":17},"resolve":{"scale":{"x":"independent","y":"independent"}},
    "layer":[
     {"data":{"name":"lns"},"transform":[{"filter":"datum.p=='A2'"}],"mark":{"type":"line","clip":true},"encoding":{"x":{"field":"x","type":"quantitative","scale":{"domain":[0.67,2.57],"nice":false,"zero":false},"axis":{"values":[1,1.5,2,2.5],"format":".1f","title":"PET ROI SUVR Average","labelPadding":6,"titlePadding":12,"titleFontSize":8.5}},"y":{"field":"y","type":"quantitative","scale":{"domain":[-0.28,0.26],"nice":false,"zero":false},"axis":{"values":[-0.2,0,0.2],"format":".1f","title":"PET ROI Diff (JLF Atlas vs. IM Atlas)","labelAngle":-90,"labelAlign":"center","labelBaseline":"bottom","minExtent":17,"maxExtent":17,"titlePadding":16}},"detail":{"field":"g"},"strokeDash":{"field":"g","scale":{"domain":["CS-DS","MCI-DS","DEM-DS"],"range":[[1,0],[4,2],[1,2]]},"legend":null}}},
     {"data":{"name":"pts"},"transform":[{"filter":"datum.p=='A2'"}],"mark":{"type":"point","stroke":"black","clip":true},"encoding":{"x":{"field":"x","type":"quantitative","scale":{"domain":[0.67,2.57],"nice":false,"zero":false},"axis":null},"y":{"field":"y","type":"quantitative","scale":{"domain":[-0.28,0.26],"nice":false,"zero":false},"axis":null},"shape":{"field":"g","scale":{"domain":["CS-DS","MCI-DS","DEM-DS"],"range":["circle","M-1,0H1M0,-1V1M-0.7,-0.7L0.7,0.7M-0.7,0.7L0.7,-0.7","triangle-up"]},"legend":null},"fill":{"field":"g","scale":{"domain":["CS-DS","MCI-DS","DEM-DS"],"range":["black","transparent","transparent"]},"legend":null}}},
     {"data":{"values":[{}]},"mark":{"type":"rect","fill":"white","stroke":"black","strokeWidth":0.6},"encoding":{"x":{"datum":0.76,"type":"quantitative","scale":{"domain":[0,1]},"axis":null},"x2":{"datum":0.995},"y":{"datum":0.99,"type":"quantitative","scale":{"domain":[0,1]},"axis":null},"y2":{"datum":0.61}}},
     {"data":{"name":"leg"},"transform":[{"filter":"datum.p=='A2'"}],"mark":{"type":"rule","strokeWidth":0.7},"encoding":{"x":{"datum":0.78,"type":"quantitative","scale":{"domain":[0,1]},"axis":null},"x2":{"datum":0.86},"y":{"field":"g","type":"nominal","scale":{"type":"point","domain":["CS-DS","MCI-DS","DEM-DS","a","b","c","d","e"],"padding":0.5},"axis":null},"strokeDash":{"field":"g","scale":{"domain":["CS-DS","MCI-DS","DEM-DS"],"range":[[1,0],[4,2],[1,2]]},"legend":null}}},
     {"data":{"name":"leg"},"transform":[{"filter":"datum.p=='A2'"}],"mark":{"type":"point","stroke":"black"},"encoding":{"x":{"datum":0.82,"type":"quantitative","scale":{"domain":[0,1]},"axis":null},"y":{"field":"g","type":"nominal","scale":{"type":"point","domain":["CS-DS","MCI-DS","DEM-DS","a","b","c","d","e"],"padding":0.5},"axis":null},"shape":{"field":"g","scale":{"domain":["CS-DS","MCI-DS","DEM-DS"],"range":["circle","M-1,0H1M0,-1V1M-0.7,-0.7L0.7,0.7M-0.7,0.7L0.7,-0.7","triangle-up"]},"legend":null},"fill":{"field":"g","scale":{"domain":["CS-DS","MCI-DS","DEM-DS"],"range":["black","transparent","transparent"]},"legend":null}}},
     {"data":{"name":"leg"},"transform":[{"filter":"datum.p=='A2'"}],"mark":{"type":"text","fontSize":5.5,"align":"left"},"encoding":{"x":{"datum":0.875,"type":"quantitative","scale":{"domain":[0,1]},"axis":null},"y":{"field":"g","type":"nominal","scale":{"type":"point","domain":["CS-DS","MCI-DS","DEM-DS","a","b","c","d","e"],"padding":0.5},"axis":null},"text":{"field":"g"}}}
    ]}
  ]},
  {"width":2,"height":1,"data":{"values":[]},"mark":"point"},
  {"vconcat":[
   {"width":192,"height":63,"data":{"values":[]},"mark":"point"},
   {"bounds":"flush","hconcat":[
    {"width":50,"height":71,"view":{"stroke":"black"},"data":{"name":"tbl"},"transform":[{"filter":"datum.p=='A2' && datum.r!='Overall Model'"}],"mark":{"type":"text","font":"Liberation Serif","fontWeight":"bold","fontSize":9.5},"encoding":{"y":{"field":"r","type":"nominal","sort":null,"scale":{"paddingInner":0,"paddingOuter":0},"axis":{"title":null,"labels":false,"ticks":false,"domain":false,"grid":true,"tickBand":"extent","gridColor":"black","gridOpacity":1,"gridWidth":1}},"text":{"field":"r"}}},
    {"width":142,"height":71,"view":{"stroke":"black"},"data":{"name":"tbl"},"transform":[{"filter":"datum.p=='A2' && datum.r!='Overall Model'"}],"mark":{"type":"text","font":"Liberation Serif","fontSize":6.2,"align":"left","lineBreak":"\n","lineHeight":7.5},"encoding":{"x":{"datum":0.02,"type":"quantitative","scale":{"domain":[0,1]},"axis":null},"y":{"field":"r","type":"nominal","sort":null,"scale":{"paddingInner":0,"paddingOuter":0},"axis":{"title":null,"labels":false,"ticks":false,"domain":false,"grid":true,"tickBand":"extent","gridColor":"black","gridOpacity":1,"gridWidth":1}},"text":{"field":"t"}}}
   ]},
   {"bounds":"flush","hconcat":[
    {"width":50,"height":12,"view":{"stroke":"black"},"data":{"name":"tbl"},"transform":[{"filter":"datum.p=='A2' && datum.r=='Overall Model'"}],"mark":{"type":"text","font":"Liberation Serif","fontWeight":"bold","fontSize":6.2},"encoding":{"text":{"field":"r"}}},
    {"width":142,"height":12,"view":{"stroke":"black"},"data":{"name":"tbl"},"transform":[{"filter":"datum.p=='A2' && datum.r=='Overall Model'"}],"mark":{"type":"text","font":"Liberation Serif","fontWeight":"bold","fontSize":6.2,"align":"left"},"encoding":{"x":{"datum":0.02,"type":"quantitative","scale":{"domain":[0,1]},"axis":null},"text":{"field":"t"}}}
   ]}
  ]},
  {"width":1,"height":1,"data":{"values":[]},"mark":"point"},
  {"width":1,"height":179,"data":{"values":[]},"mark":"point","view":{"fill":"#222"}}
 ]},
 {"width":437,"height":2,"data":{"values":[]},"mark":"point","view":{"fill":"#222"}},
 {"hconcat":[
  {"width":1,"height":274,"data":{"values":[]},"mark":"point","view":{"fill":"#222"}},
  {"width":3,"height":1,"data":{"values":[]},"mark":"point"},
  {"bounds":"flush","vconcat":[
   {"width":195,"height":128,"data":{"values":[]},"mark":"point"},
   {"width":195,"height":80,"view":{"stroke":"black"},"title":{"text":"AnteriorCingulate","dx":22,"dy":17},"resolve":{"scale":{"x":"independent","y":"independent"}},
    "layer":[
     {"data":{"name":"lns"},"transform":[{"filter":"datum.p=='A3'"}],"mark":{"type":"line","clip":true},"encoding":{"x":{"field":"x","type":"quantitative","scale":{"domain":[0.67,2.57],"nice":false,"zero":false},"axis":{"values":[1,1.5,2,2.5],"format":".1f","title":"PET ROI SUVR Average","labelPadding":6,"titlePadding":12,"titleFontSize":8.5}},"y":{"field":"y","type":"quantitative","scale":{"domain":[-0.28,0.26],"nice":false,"zero":false},"axis":{"values":[-0.2,0,0.2],"format":".1f","title":"PET ROI Diff (JLF Atlas vs. IM Atlas)","labelAngle":-90,"labelAlign":"center","labelBaseline":"bottom","minExtent":17,"maxExtent":17,"titlePadding":16}},"detail":{"field":"g"},"strokeDash":{"field":"g","scale":{"domain":["CS-DS","MCI-DS","DEM-DS"],"range":[[1,0],[4,2],[1,2]]},"legend":null}}},
     {"data":{"name":"pts"},"transform":[{"filter":"datum.p=='A3'"}],"mark":{"type":"point","stroke":"black","clip":true},"encoding":{"x":{"field":"x","type":"quantitative","scale":{"domain":[0.67,2.57],"nice":false,"zero":false},"axis":null},"y":{"field":"y","type":"quantitative","scale":{"domain":[-0.28,0.26],"nice":false,"zero":false},"axis":null},"shape":{"field":"g","scale":{"domain":["CS-DS","MCI-DS","DEM-DS"],"range":["circle","M-1,0H1M0,-1V1M-0.7,-0.7L0.7,0.7M-0.7,0.7L0.7,-0.7","triangle-up"]},"legend":null},"fill":{"field":"g","scale":{"domain":["CS-DS","MCI-DS","DEM-DS"],"range":["black","transparent","transparent"]},"legend":null}}},
     {"data":{"values":[{}]},"mark":{"type":"rect","fill":"white","stroke":"black","strokeWidth":0.6},"encoding":{"x":{"datum":0.76,"type":"quantitative","scale":{"domain":[0,1]},"axis":null},"x2":{"datum":0.995},"y":{"datum":0.99,"type":"quantitative","scale":{"domain":[0,1]},"axis":null},"y2":{"datum":0.61}}},
     {"data":{"name":"leg"},"transform":[{"filter":"datum.p=='A3'"}],"mark":{"type":"rule","strokeWidth":0.7},"encoding":{"x":{"datum":0.78,"type":"quantitative","scale":{"domain":[0,1]},"axis":null},"x2":{"datum":0.86},"y":{"field":"g","type":"nominal","scale":{"type":"point","domain":["CS-DS","MCI-DS","DEM-DS","a","b","c","d","e"],"padding":0.5},"axis":null},"strokeDash":{"field":"g","scale":{"domain":["CS-DS","MCI-DS","DEM-DS"],"range":[[1,0],[4,2],[1,2]]},"legend":null}}},
     {"data":{"name":"leg"},"transform":[{"filter":"datum.p=='A3'"}],"mark":{"type":"point","stroke":"black"},"encoding":{"x":{"datum":0.82,"type":"quantitative","scale":{"domain":[0,1]},"axis":null},"y":{"field":"g","type":"nominal","scale":{"type":"point","domain":["CS-DS","MCI-DS","DEM-DS","a","b","c","d","e"],"padding":0.5},"axis":null},"shape":{"field":"g","scale":{"domain":["CS-DS","MCI-DS","DEM-DS"],"range":["circle","M-1,0H1M0,-1V1M-0.7,-0.7L0.7,0.7M-0.7,0.7L0.7,-0.7","triangle-up"]},"legend":null},"fill":{"field":"g","scale":{"domain":["CS-DS","MCI-DS","DEM-DS"],"range":["black","transparent","transparent"]},"legend":null}}},
     {"data":{"name":"leg"},"transform":[{"filter":"datum.p=='A3'"}],"mark":{"type":"text","fontSize":5.5,"align":"left"},"encoding":{"x":{"datum":0.875,"type":"quantitative","scale":{"domain":[0,1]},"axis":null},"y":{"field":"g","type":"nominal","scale":{"type":"point","domain":["CS-DS","MCI-DS","DEM-DS","a","b","c","d","e"],"padding":0.5},"axis":null},"text":{"field":"g"}}}
    ]}
  ]},
  {"width":2,"height":1,"data":{"values":[]},"mark":"point"},
  {"vconcat":[
   {"width":192,"height":122,"data":{"values":[]},"mark":"point"},
   {"bounds":"flush","hconcat":[
    {"width":50,"height":64,"view":{"stroke":"black"},"data":{"name":"tbl"},"transform":[{"filter":"datum.p=='A3' && datum.r!='Overall Model'"}],"mark":{"type":"text","font":"Liberation Serif","fontWeight":"bold","fontSize":9.5},"encoding":{"y":{"field":"r","type":"nominal","sort":null,"scale":{"paddingInner":0,"paddingOuter":0},"axis":{"title":null,"labels":false,"ticks":false,"domain":false,"grid":true,"tickBand":"extent","gridColor":"black","gridOpacity":1,"gridWidth":1}},"text":{"field":"r"}}},
    {"width":142,"height":64,"view":{"stroke":"black"},"data":{"name":"tbl"},"transform":[{"filter":"datum.p=='A3' && datum.r!='Overall Model'"}],"mark":{"type":"text","font":"Liberation Serif","fontSize":6.2,"align":"left","lineBreak":"\n","lineHeight":7.5},"encoding":{"x":{"datum":0.02,"type":"quantitative","scale":{"domain":[0,1]},"axis":null},"y":{"field":"r","type":"nominal","sort":null,"scale":{"paddingInner":0,"paddingOuter":0},"axis":{"title":null,"labels":false,"ticks":false,"domain":false,"grid":true,"tickBand":"extent","gridColor":"black","gridOpacity":1,"gridWidth":1}},"text":{"field":"t"}}}
   ]},
   {"bounds":"flush","hconcat":[
    {"width":50,"height":12,"view":{"stroke":"black"},"data":{"name":"tbl"},"transform":[{"filter":"datum.p=='A3' && datum.r=='Overall Model'"}],"mark":{"type":"text","font":"Liberation Serif","fontWeight":"bold","fontSize":6.2},"encoding":{"text":{"field":"r"}}},
    {"width":142,"height":12,"view":{"stroke":"black"},"data":{"name":"tbl"},"transform":[{"filter":"datum.p=='A3' && datum.r=='Overall Model'"}],"mark":{"type":"text","font":"Liberation Serif","fontWeight":"bold","fontSize":6.2,"align":"left"},"encoding":{"x":{"datum":0.02,"type":"quantitative","scale":{"domain":[0,1]},"axis":null},"text":{"field":"t"}}}
   ]}
  ]},
  {"width":1,"height":1,"data":{"values":[]},"mark":"point"},
  {"width":1,"height":274,"data":{"values":[]},"mark":"point","view":{"fill":"#222"}}
 ]}
]},
{"width":7,"height":1,"data":{"values":[]},"mark":"point"},
{"vconcat":[
 {"width":446,"height":37,"data":{"values":[{"t":"(B)"}]},"mark":{"type":"text","fontSize":20},"encoding":{"text":{"field":"t"}}},
 {"width":446,"height":23,"view":{"stroke":"black"},"data":{"values":[{"t":"CS-DS Atlas Vs. IM Atlas"}]},"mark":{"type":"text","fontSize":12.5,"fontWeight":"bold"},"encoding":{"text":{"field":"t"}}},
 {"hconcat":[
  {"width":1,"height":166,"data":{"values":[]},"mark":"point","view":{"fill":"#222"}},
  {"width":1,"height":1,"data":{"values":[]},"mark":"point"},
  {"bounds":"flush","vconcat":[
   {"width":195,"height":41,"data":{"values":[]},"mark":"point"},
   {"width":195,"height":80,"view":{"stroke":"black"},"title":{"text":"DorsalStriatum","dx":-12,"dy":17},"resolve":{"scale":{"x":"independent","y":"independent"}},
    "layer":[
     {"data":{"name":"lns"},"transform":[{"filter":"datum.p=='B1'"}],"mark":{"type":"line","clip":true},"encoding":{"x":{"field":"x","type":"quantitative","scale":{"domain":[0.67,2.57],"nice":false,"zero":false},"axis":{"values":[1,1.5,2,2.5],"format":".1f","title":"PET ROI SURV Average","labelPadding":6,"titlePadding":12,"titleFontSize":8.5}},"y":{"field":"y","type":"quantitative","scale":{"domain":[-0.28,0.26],"nice":false,"zero":false},"axis":{"values":[-0.2,0,0.2],"format":".1f","title":"PET ROI Diff (JLF Atlas vs. IM Atlas)","labelAngle":-90,"labelAlign":"center","labelBaseline":"bottom","minExtent":17,"maxExtent":17,"titlePadding":16}},"detail":{"field":"g"},"strokeDash":{"field":"g","scale":{"domain":["MCI-DS","DEM-DS"],"range":[[4,2],[1,2]]},"legend":null}}},
     {"data":{"name":"pts"},"transform":[{"filter":"datum.p=='B1'"}],"mark":{"type":"point","stroke":"black","clip":true},"encoding":{"x":{"field":"x","type":"quantitative","scale":{"domain":[0.67,2.57],"nice":false,"zero":false},"axis":null},"y":{"field":"y","type":"quantitative","scale":{"domain":[-0.28,0.26],"nice":false,"zero":false},"axis":null},"shape":{"field":"g","scale":{"domain":["MCI-DS","DEM-DS"],"range":["M-1,0H1M0,-1V1M-0.7,-0.7L0.7,0.7M-0.7,0.7L0.7,-0.7","triangle-up"]},"legend":null},"fill":{"field":"g","scale":{"domain":["MCI-DS","DEM-DS"],"range":["transparent","transparent"]},"legend":null}}},
     {"data":{"values":[{}]},"mark":{"type":"rect","fill":"white","stroke":"black","strokeWidth":0.6},"encoding":{"x":{"datum":0.76,"type":"quantitative","scale":{"domain":[0,1]},"axis":null},"x2":{"datum":0.995},"y":{"datum":0.99,"type":"quantitative","scale":{"domain":[0,1]},"axis":null},"y2":{"datum":0.74}}},
     {"data":{"name":"leg"},"transform":[{"filter":"datum.p=='B1'"}],"mark":{"type":"rule","strokeWidth":0.7},"encoding":{"x":{"datum":0.78,"type":"quantitative","scale":{"domain":[0,1]},"axis":null},"x2":{"datum":0.86},"y":{"field":"g","type":"nominal","scale":{"type":"point","domain":["MCI-DS","DEM-DS","a","b","c","d","e","f"],"padding":0.5},"axis":null},"strokeDash":{"field":"g","scale":{"domain":["MCI-DS","DEM-DS"],"range":[[4,2],[1,2]]},"legend":null}}},
     {"data":{"name":"leg"},"transform":[{"filter":"datum.p=='B1'"}],"mark":{"type":"point","stroke":"black"},"encoding":{"x":{"datum":0.82,"type":"quantitative","scale":{"domain":[0,1]},"axis":null},"y":{"field":"g","type":"nominal","scale":{"type":"point","domain":["MCI-DS","DEM-DS","a","b","c","d","e","f"],"padding":0.5},"axis":null},"shape":{"field":"g","scale":{"domain":["MCI-DS","DEM-DS"],"range":["M-1,0H1M0,-1V1M-0.7,-0.7L0.7,0.7M-0.7,0.7L0.7,-0.7","triangle-up"]},"legend":null},"fill":{"field":"g","scale":{"domain":["MCI-DS","DEM-DS"],"range":["transparent","transparent"]},"legend":null}}},
     {"data":{"name":"leg"},"transform":[{"filter":"datum.p=='B1'"}],"mark":{"type":"text","fontSize":5.5,"align":"left"},"encoding":{"x":{"datum":0.875,"type":"quantitative","scale":{"domain":[0,1]},"axis":null},"y":{"field":"g","type":"nominal","scale":{"type":"point","domain":["MCI-DS","DEM-DS","a","b","c","d","e","f"],"padding":0.5},"axis":null},"text":{"field":"g"}}}
    ]}
  ]},
  {"width":12,"height":1,"data":{"values":[]},"mark":"point"},
  {"vconcat":[
   {"width":192,"height":59,"data":{"values":[]},"mark":"point"},
   {"bounds":"flush","hconcat":[
    {"width":62,"height":46,"view":{"stroke":"black"},"data":{"name":"tbl"},"transform":[{"filter":"datum.p=='B1' && datum.r!='Overall Model'"}],"mark":{"type":"text","font":"Liberation Serif","fontWeight":"bold","fontSize":8.5},"encoding":{"y":{"field":"r","type":"nominal","sort":null,"scale":{"paddingInner":0,"paddingOuter":0},"axis":{"title":null,"labels":false,"ticks":false,"domain":false,"grid":true,"tickBand":"extent","gridColor":"black","gridOpacity":1,"gridWidth":1}},"text":{"field":"r"}}},
    {"width":130,"height":46,"view":{"stroke":"black"},"data":{"name":"tbl"},"transform":[{"filter":"datum.p=='B1' && datum.r!='Overall Model'"}],"mark":{"type":"text","font":"Liberation Serif","fontSize":6.4,"align":"left","lineBreak":"\n","lineHeight":7.8},"encoding":{"x":{"datum":0.03,"type":"quantitative","scale":{"domain":[0,1]},"axis":null},"y":{"field":"r","type":"nominal","sort":null,"scale":{"paddingInner":0,"paddingOuter":0},"axis":{"title":null,"labels":false,"ticks":false,"domain":false,"grid":true,"tickBand":"extent","gridColor":"black","gridOpacity":1,"gridWidth":1}},"text":{"field":"t"}}}
   ]},
   {"bounds":"flush","hconcat":[
    {"width":62,"height":11,"view":{"stroke":"black"},"data":{"name":"tbl"},"transform":[{"filter":"datum.p=='B1' && datum.r=='Overall Model'"}],"mark":{"type":"text","font":"Liberation Serif","fontWeight":"bold","fontSize":7.5},"encoding":{"text":{"field":"r"}}},
    {"width":130,"height":11,"view":{"stroke":"black"},"data":{"name":"tbl"},"transform":[{"filter":"datum.p=='B1' && datum.r=='Overall Model'"}],"mark":{"type":"text","font":"Liberation Serif","fontWeight":"bold","fontSize":6.8,"align":"left"},"encoding":{"x":{"datum":0.03,"type":"quantitative","scale":{"domain":[0,1]},"axis":null},"text":{"field":"t"}}}
   ]}
  ]},
  {"width":2,"height":1,"data":{"values":[]},"mark":"point"},
  {"width":1,"height":166,"data":{"values":[]},"mark":"point","view":{"fill":"#222"}}
 ]},
 {"width":446,"height":2,"data":{"values":[]},"mark":"point","view":{"fill":"#222"}},
 {"hconcat":[
  {"width":1,"height":166,"data":{"values":[]},"mark":"point","view":{"fill":"#222"}},
  {"width":1,"height":1,"data":{"values":[]},"mark":"point"},
  {"bounds":"flush","vconcat":[
   {"width":195,"height":42,"data":{"values":[]},"mark":"point"},
   {"width":195,"height":80,"view":{"stroke":"black"},"title":{"text":"InferiorTemporal","dx":-12,"dy":17},"resolve":{"scale":{"x":"independent","y":"independent"}},
    "layer":[
     {"data":{"name":"lns"},"transform":[{"filter":"datum.p=='B2'"}],"mark":{"type":"line","clip":true},"encoding":{"x":{"field":"x","type":"quantitative","scale":{"domain":[0.67,2.57],"nice":false,"zero":false},"axis":{"values":[1,1.5,2,2.5],"format":".1f","title":"PET ROI SURV Average","labelPadding":6,"titlePadding":12,"titleFontSize":8.5}},"y":{"field":"y","type":"quantitative","scale":{"domain":[-0.28,0.26],"nice":false,"zero":false},"axis":{"values":[-0.2,0,0.2],"format":".1f","title":"PET ROI Diff (JLF Atlas vs. IM Atlas)","labelAngle":-90,"labelAlign":"center","labelBaseline":"bottom","minExtent":17,"maxExtent":17,"titlePadding":16}},"detail":{"field":"g"},"strokeDash":{"field":"g","scale":{"domain":["MCI-DS","DEM-DS"],"range":[[4,2],[1,2]]},"legend":null}}},
     {"data":{"name":"pts"},"transform":[{"filter":"datum.p=='B2'"}],"mark":{"type":"point","stroke":"black","clip":true},"encoding":{"x":{"field":"x","type":"quantitative","scale":{"domain":[0.67,2.57],"nice":false,"zero":false},"axis":null},"y":{"field":"y","type":"quantitative","scale":{"domain":[-0.28,0.26],"nice":false,"zero":false},"axis":null},"shape":{"field":"g","scale":{"domain":["MCI-DS","DEM-DS"],"range":["M-1,0H1M0,-1V1M-0.7,-0.7L0.7,0.7M-0.7,0.7L0.7,-0.7","triangle-up"]},"legend":null},"fill":{"field":"g","scale":{"domain":["MCI-DS","DEM-DS"],"range":["transparent","transparent"]},"legend":null}}},
     {"data":{"values":[{}]},"mark":{"type":"rect","fill":"white","stroke":"black","strokeWidth":0.6},"encoding":{"x":{"datum":0.76,"type":"quantitative","scale":{"domain":[0,1]},"axis":null},"x2":{"datum":0.995},"y":{"datum":0.99,"type":"quantitative","scale":{"domain":[0,1]},"axis":null},"y2":{"datum":0.74}}},
     {"data":{"name":"leg"},"transform":[{"filter":"datum.p=='B2'"}],"mark":{"type":"rule","strokeWidth":0.7},"encoding":{"x":{"datum":0.78,"type":"quantitative","scale":{"domain":[0,1]},"axis":null},"x2":{"datum":0.86},"y":{"field":"g","type":"nominal","scale":{"type":"point","domain":["MCI-DS","DEM-DS","a","b","c","d","e","f"],"padding":0.5},"axis":null},"strokeDash":{"field":"g","scale":{"domain":["MCI-DS","DEM-DS"],"range":[[4,2],[1,2]]},"legend":null}}},
     {"data":{"name":"leg"},"transform":[{"filter":"datum.p=='B2'"}],"mark":{"type":"point","stroke":"black"},"encoding":{"x":{"datum":0.82,"type":"quantitative","scale":{"domain":[0,1]},"axis":null},"y":{"field":"g","type":"nominal","scale":{"type":"point","domain":["MCI-DS","DEM-DS","a","b","c","d","e","f"],"padding":0.5},"axis":null},"shape":{"field":"g","scale":{"domain":["MCI-DS","DEM-DS"],"range":["M-1,0H1M0,-1V1M-0.7,-0.7L0.7,0.7M-0.7,0.7L0.7,-0.7","triangle-up"]},"legend":null},"fill":{"field":"g","scale":{"domain":["MCI-DS","DEM-DS"],"range":["transparent","transparent"]},"legend":null}}},
     {"data":{"name":"leg"},"transform":[{"filter":"datum.p=='B2'"}],"mark":{"type":"text","fontSize":5.5,"align":"left"},"encoding":{"x":{"datum":0.875,"type":"quantitative","scale":{"domain":[0,1]},"axis":null},"y":{"field":"g","type":"nominal","scale":{"type":"point","domain":["MCI-DS","DEM-DS","a","b","c","d","e","f"],"padding":0.5},"axis":null},"text":{"field":"g"}}}
    ]}
  ]},
  {"width":12,"height":1,"data":{"values":[]},"mark":"point"},
  {"vconcat":[
   {"width":192,"height":52,"data":{"values":[]},"mark":"point"},
   {"bounds":"flush","hconcat":[
    {"width":62,"height":51,"view":{"stroke":"black"},"data":{"name":"tbl"},"transform":[{"filter":"datum.p=='B2' && datum.r!='Overall Model'"}],"mark":{"type":"text","font":"Liberation Serif","fontWeight":"bold","fontSize":8.5},"encoding":{"y":{"field":"r","type":"nominal","sort":null,"scale":{"paddingInner":0,"paddingOuter":0},"axis":{"title":null,"labels":false,"ticks":false,"domain":false,"grid":true,"tickBand":"extent","gridColor":"black","gridOpacity":1,"gridWidth":1}},"text":{"field":"r"}}},
    {"width":130,"height":51,"view":{"stroke":"black"},"data":{"name":"tbl"},"transform":[{"filter":"datum.p=='B2' && datum.r!='Overall Model'"}],"mark":{"type":"text","font":"Liberation Serif","fontSize":6.4,"align":"left","lineBreak":"\n","lineHeight":7.8},"encoding":{"x":{"datum":0.03,"type":"quantitative","scale":{"domain":[0,1]},"axis":null},"y":{"field":"r","type":"nominal","sort":null,"scale":{"paddingInner":0,"paddingOuter":0},"axis":{"title":null,"labels":false,"ticks":false,"domain":false,"grid":true,"tickBand":"extent","gridColor":"black","gridOpacity":1,"gridWidth":1}},"text":{"field":"t"}}}
   ]},
   {"bounds":"flush","hconcat":[
    {"width":62,"height":14,"view":{"stroke":"black"},"data":{"name":"tbl"},"transform":[{"filter":"datum.p=='B2' && datum.r=='Overall Model'"}],"mark":{"type":"text","font":"Liberation Serif","fontWeight":"bold","fontSize":7.5},"encoding":{"text":{"field":"r"}}},
    {"width":130,"height":14,"view":{"stroke":"black"},"data":{"name":"tbl"},"transform":[{"filter":"datum.p=='B2' && datum.r=='Overall Model'"}],"mark":{"type":"text","font":"Liberation Serif","fontWeight":"bold","fontSize":6.8,"align":"left"},"encoding":{"x":{"datum":0.03,"type":"quantitative","scale":{"domain":[0,1]},"axis":null},"text":{"field":"t"}}}
   ]}
  ]},
  {"width":2,"height":1,"data":{"values":[]},"mark":"point"},
  {"width":1,"height":166,"data":{"values":[]},"mark":"point","view":{"fill":"#222"}}
 ]},
 {"width":446,"height":2,"data":{"values":[]},"mark":"point","view":{"fill":"#222"}},
 {"hconcat":[
  {"width":1,"height":175,"data":{"values":[]},"mark":"point","view":{"fill":"#222"}},
  {"width":1,"height":1,"data":{"values":[]},"mark":"point"},
  {"bounds":"flush","vconcat":[
   {"width":195,"height":52,"data":{"values":[]},"mark":"point"},
   {"width":195,"height":80,"view":{"stroke":"black"},"title":{"text":"MiddleTemporal","dx":-12,"dy":17},"resolve":{"scale":{"x":"independent","y":"independent"}},
    "layer":[
     {"data":{"name":"lns"},"transform":[{"filter":"datum.p=='B3'"}],"mark":{"type":"line","clip":true},"encoding":{"x":{"field":"x","type":"quantitative","scale":{"domain":[0.67,2.57],"nice":false,"zero":false},"axis":{"values":[1,1.5,2,2.5],"format":".1f","title":"PET ROI SURV Average","labelPadding":6,"titlePadding":12,"titleFontSize":8.5}},"y":{"field":"y","type":"quantitative","scale":{"domain":[-0.28,0.26],"nice":false,"zero":false},"axis":{"values":[-0.2,0,0.2],"format":".1f","title":"PET ROI Diff (JLF Atlas vs. IM Atlas)","labelAngle":-90,"labelAlign":"center","labelBaseline":"bottom","minExtent":17,"maxExtent":17,"titlePadding":16}},"detail":{"field":"g"},"strokeDash":{"field":"g","scale":{"domain":["MCI-DS","DEM-DS"],"range":[[4,2],[1,2]]},"legend":null}}},
     {"data":{"name":"pts"},"transform":[{"filter":"datum.p=='B3'"}],"mark":{"type":"point","stroke":"black","clip":true},"encoding":{"x":{"field":"x","type":"quantitative","scale":{"domain":[0.67,2.57],"nice":false,"zero":false},"axis":null},"y":{"field":"y","type":"quantitative","scale":{"domain":[-0.28,0.26],"nice":false,"zero":false},"axis":null},"shape":{"field":"g","scale":{"domain":["MCI-DS","DEM-DS"],"range":["M-1,0H1M0,-1V1M-0.7,-0.7L0.7,0.7M-0.7,0.7L0.7,-0.7","triangle-up"]},"legend":null},"fill":{"field":"g","scale":{"domain":["MCI-DS","DEM-DS"],"range":["transparent","transparent"]},"legend":null}}},
     {"data":{"values":[{}]},"mark":{"type":"rect","fill":"white","stroke":"black","strokeWidth":0.6},"encoding":{"x":{"datum":0.76,"type":"quantitative","scale":{"domain":[0,1]},"axis":null},"x2":{"datum":0.995},"y":{"datum":0.99,"type":"quantitative","scale":{"domain":[0,1]},"axis":null},"y2":{"datum":0.74}}},
     {"data":{"name":"leg"},"transform":[{"filter":"datum.p=='B3'"}],"mark":{"type":"rule","strokeWidth":0.7},"encoding":{"x":{"datum":0.78,"type":"quantitative","scale":{"domain":[0,1]},"axis":null},"x2":{"datum":0.86},"y":{"field":"g","type":"nominal","scale":{"type":"point","domain":["MCI-DS","DEM-DS","a","b","c","d","e","f"],"padding":0.5},"axis":null},"strokeDash":{"field":"g","scale":{"domain":["MCI-DS","DEM-DS"],"range":[[4,2],[1,2]]},"legend":null}}},
     {"data":{"name":"leg"},"transform":[{"filter":"datum.p=='B3'"}],"mark":{"type":"point","stroke":"black"},"encoding":{"x":{"datum":0.82,"type":"quantitative","scale":{"domain":[0,1]},"axis":null},"y":{"field":"g","type":"nominal","scale":{"type":"point","domain":["MCI-DS","DEM-DS","a","b","c","d","e","f"],"padding":0.5},"axis":null},"shape":{"field":"g","scale":{"domain":["MCI-DS","DEM-DS"],"range":["M-1,0H1M0,-1V1M-0.7,-0.7L0.7,0.7M-0.7,0.7L0.7,-0.7","triangle-up"]},"legend":null},"fill":{"field":"g","scale":{"domain":["MCI-DS","DEM-DS"],"range":["transparent","transparent"]},"legend":null}}},
     {"data":{"name":"leg"},"transform":[{"filter":"datum.p=='B3'"}],"mark":{"type":"text","fontSize":5.5,"align":"left"},"encoding":{"x":{"datum":0.875,"type":"quantitative","scale":{"domain":[0,1]},"axis":null},"y":{"field":"g","type":"nominal","scale":{"type":"point","domain":["MCI-DS","DEM-DS","a","b","c","d","e","f"],"padding":0.5},"axis":null},"text":{"field":"g"}}}
    ]}
  ]},
  {"width":12,"height":1,"data":{"values":[]},"mark":"point"},
  {"vconcat":[
   {"width":192,"height":66,"data":{"values":[]},"mark":"point"},
   {"bounds":"flush","hconcat":[
    {"width":62,"height":50,"view":{"stroke":"black"},"data":{"name":"tbl"},"transform":[{"filter":"datum.p=='B3' && datum.r!='Overall Model'"}],"mark":{"type":"text","font":"Liberation Serif","fontWeight":"bold","fontSize":8.5},"encoding":{"y":{"field":"r","type":"nominal","sort":null,"scale":{"paddingInner":0,"paddingOuter":0},"axis":{"title":null,"labels":false,"ticks":false,"domain":false,"grid":true,"tickBand":"extent","gridColor":"black","gridOpacity":1,"gridWidth":1}},"text":{"field":"r"}}},
    {"width":130,"height":50,"view":{"stroke":"black"},"data":{"name":"tbl"},"transform":[{"filter":"datum.p=='B3' && datum.r!='Overall Model'"}],"mark":{"type":"text","font":"Liberation Serif","fontSize":6.4,"align":"left","lineBreak":"\n","lineHeight":7.8},"encoding":{"x":{"datum":0.03,"type":"quantitative","scale":{"domain":[0,1]},"axis":null},"y":{"field":"r","type":"nominal","sort":null,"scale":{"paddingInner":0,"paddingOuter":0},"axis":{"title":null,"labels":false,"ticks":false,"domain":false,"grid":true,"tickBand":"extent","gridColor":"black","gridOpacity":1,"gridWidth":1}},"text":{"field":"t"}}}
   ]},
   {"bounds":"flush","hconcat":[
    {"width":62,"height":12,"view":{"stroke":"black"},"data":{"name":"tbl"},"transform":[{"filter":"datum.p=='B3' && datum.r=='Overall Model'"}],"mark":{"type":"text","font":"Liberation Serif","fontWeight":"bold","fontSize":7.5},"encoding":{"text":{"field":"r"}}},
    {"width":130,"height":12,"view":{"stroke":"black"},"data":{"name":"tbl"},"transform":[{"filter":"datum.p=='B3' && datum.r=='Overall Model'"}],"mark":{"type":"text","font":"Liberation Serif","fontWeight":"bold","fontSize":6.8,"align":"left"},"encoding":{"x":{"datum":0.03,"type":"quantitative","scale":{"domain":[0,1]},"axis":null},"text":{"field":"t"}}}
   ]}
  ]},
  {"width":2,"height":1,"data":{"values":[]},"mark":"point"},
  {"width":1,"height":175,"data":{"values":[]},"mark":"point","view":{"fill":"#222"}}
 ]},
 {"width":446,"height":2,"data":{"values":[]},"mark":"point","view":{"fill":"#222"}},
 {"hconcat":[
  {"width":1,"height":173,"data":{"values":[]},"mark":"point","view":{"fill":"#222"}},
  {"width":1,"height":1,"data":{"values":[]},"mark":"point"},
  {"bounds":"flush","vconcat":[
   {"width":195,"height":30,"data":{"values":[]},"mark":"point"},
   {"width":195,"height":80,"view":{"stroke":"black"},"title":{"text":"LateralOrbitoFrontal","dx":-12,"dy":17},"resolve":{"scale":{"x":"independent","y":"independent"}},
    "layer":[
     {"data":{"name":"lns"},"transform":[{"filter":"datum.p=='B4'"}],"mark":{"type":"line","clip":true},"encoding":{"x":{"field":"x","type":"quantitative","scale":{"domain":[0.67,2.57],"nice":false,"zero":false},"axis":{"values":[1,1.5,2,2.5],"format":".1f","title":"PET ROI SURV Average","labelPadding":6,"titlePadding":12,"titleFontSize":8.5}},"y":{"field":"y","type":"quantitative","scale":{"domain":[-0.28,0.26],"nice":false,"zero":false},"axis":{"values":[-0.2,0,0.2],"format":".1f","title":"PET ROI Diff (JLF Atlas vs. IM Atlas)","labelAngle":-90,"labelAlign":"center","labelBaseline":"bottom","minExtent":17,"maxExtent":17,"titlePadding":16}},"detail":{"field":"g"},"strokeDash":{"field":"g","scale":{"domain":["MCI-DS","DEM-DS"],"range":[[4,2],[1,2]]},"legend":null}}},
     {"data":{"name":"pts"},"transform":[{"filter":"datum.p=='B4'"}],"mark":{"type":"point","stroke":"black","clip":true},"encoding":{"x":{"field":"x","type":"quantitative","scale":{"domain":[0.67,2.57],"nice":false,"zero":false},"axis":null},"y":{"field":"y","type":"quantitative","scale":{"domain":[-0.28,0.26],"nice":false,"zero":false},"axis":null},"shape":{"field":"g","scale":{"domain":["MCI-DS","DEM-DS"],"range":["M-1,0H1M0,-1V1M-0.7,-0.7L0.7,0.7M-0.7,0.7L0.7,-0.7","triangle-up"]},"legend":null},"fill":{"field":"g","scale":{"domain":["MCI-DS","DEM-DS"],"range":["transparent","transparent"]},"legend":null}}},
     {"data":{"values":[{}]},"mark":{"type":"rect","fill":"white","stroke":"black","strokeWidth":0.6},"encoding":{"x":{"datum":0.76,"type":"quantitative","scale":{"domain":[0,1]},"axis":null},"x2":{"datum":0.995},"y":{"datum":0.99,"type":"quantitative","scale":{"domain":[0,1]},"axis":null},"y2":{"datum":0.74}}},
     {"data":{"name":"leg"},"transform":[{"filter":"datum.p=='B4'"}],"mark":{"type":"rule","strokeWidth":0.7},"encoding":{"x":{"datum":0.78,"type":"quantitative","scale":{"domain":[0,1]},"axis":null},"x2":{"datum":0.86},"y":{"field":"g","type":"nominal","scale":{"type":"point","domain":["MCI-DS","DEM-DS","a","b","c","d","e","f"],"padding":0.5},"axis":null},"strokeDash":{"field":"g","scale":{"domain":["MCI-DS","DEM-DS"],"range":[[4,2],[1,2]]},"legend":null}}},
     {"data":{"name":"leg"},"transform":[{"filter":"datum.p=='B4'"}],"mark":{"type":"point","stroke":"black"},"encoding":{"x":{"datum":0.82,"type":"quantitative","scale":{"domain":[0,1]},"axis":null},"y":{"field":"g","type":"nominal","scale":{"type":"point","domain":["MCI-DS","DEM-DS","a","b","c","d","e","f"],"padding":0.5},"axis":null},"shape":{"field":"g","scale":{"domain":["MCI-DS","DEM-DS"],"range":["M-1,0H1M0,-1V1M-0.7,-0.7L0.7,0.7M-0.7,0.7L0.7,-0.7","triangle-up"]},"legend":null},"fill":{"field":"g","scale":{"domain":["MCI-DS","DEM-DS"],"range":["transparent","transparent"]},"legend":null}}},
     {"data":{"name":"leg"},"transform":[{"filter":"datum.p=='B4'"}],"mark":{"type":"text","fontSize":5.5,"align":"left"},"encoding":{"x":{"datum":0.875,"type":"quantitative","scale":{"domain":[0,1]},"axis":null},"y":{"field":"g","type":"nominal","scale":{"type":"point","domain":["MCI-DS","DEM-DS","a","b","c","d","e","f"],"padding":0.5},"axis":null},"text":{"field":"g"}}}
    ]}
  ]},
  {"width":12,"height":1,"data":{"values":[]},"mark":"point"},
  {"vconcat":[
   {"width":192,"height":40,"data":{"values":[]},"mark":"point"},
   {"bounds":"flush","hconcat":[
    {"width":62,"height":47,"view":{"stroke":"black"},"data":{"name":"tbl"},"transform":[{"filter":"datum.p=='B4' && datum.r!='Overall Model'"}],"mark":{"type":"text","font":"Liberation Serif","fontWeight":"bold","fontSize":8.5},"encoding":{"y":{"field":"r","type":"nominal","sort":null,"scale":{"paddingInner":0,"paddingOuter":0},"axis":{"title":null,"labels":false,"ticks":false,"domain":false,"grid":true,"tickBand":"extent","gridColor":"black","gridOpacity":1,"gridWidth":1}},"text":{"field":"r"}}},
    {"width":130,"height":47,"view":{"stroke":"black"},"data":{"name":"tbl"},"transform":[{"filter":"datum.p=='B4' && datum.r!='Overall Model'"}],"mark":{"type":"text","font":"Liberation Serif","fontSize":6.4,"align":"left","lineBreak":"\n","lineHeight":7.8},"encoding":{"x":{"datum":0.03,"type":"quantitative","scale":{"domain":[0,1]},"axis":null},"y":{"field":"r","type":"nominal","sort":null,"scale":{"paddingInner":0,"paddingOuter":0},"axis":{"title":null,"labels":false,"ticks":false,"domain":false,"grid":true,"tickBand":"extent","gridColor":"black","gridOpacity":1,"gridWidth":1}},"text":{"field":"t"}}}
   ]},
   {"bounds":"flush","hconcat":[
    {"width":62,"height":12,"view":{"stroke":"black"},"data":{"name":"tbl"},"transform":[{"filter":"datum.p=='B4' && datum.r=='Overall Model'"}],"mark":{"type":"text","font":"Liberation Serif","fontWeight":"bold","fontSize":7.5},"encoding":{"text":{"field":"r"}}},
    {"width":130,"height":12,"view":{"stroke":"black"},"data":{"name":"tbl"},"transform":[{"filter":"datum.p=='B4' && datum.r=='Overall Model'"}],"mark":{"type":"text","font":"Liberation Serif","fontWeight":"bold","fontSize":6.8,"align":"left"},"encoding":{"x":{"datum":0.03,"type":"quantitative","scale":{"domain":[0,1]},"axis":null},"text":{"field":"t"}}}
   ]}
  ]},
  {"width":2,"height":1,"data":{"values":[]},"mark":"point"},
  {"width":1,"height":173,"data":{"values":[]},"mark":"point","view":{"fill":"#222"}}
 ]}
]},
{"width":7,"height":1,"data":{"values":[]},"mark":"point"},
{"vconcat":[
 {"width":438,"height":37,"data":{"values":[{"t":"(C)"}]},"mark":{"type":"text","fontSize":20},"encoding":{"text":{"field":"t"}}},
 {"width":438,"height":23,"view":{"stroke":"black"},"data":{"values":[{"t":"CS-NT Atlas vs. IM atlas"}]},"mark":{"type":"text","fontSize":12.5,"fontWeight":"bold"},"encoding":{"text":{"field":"t"}}},
 {"hconcat":[
  {"width":1,"height":173,"data":{"values":[]},"mark":"point","view":{"fill":"#222"}},
  {"width":8,"height":1,"data":{"values":[]},"mark":"point"},
  {"bounds":"flush","vconcat":[
   {"width":195,"height":50,"data":{"values":[]},"mark":"point"},
   {"width":195,"height":80,"view":{"stroke":"black"},"title":{"text":"DorsalStriatum","dx":-11,"dy":17},"resolve":{"scale":{"x":"independent","y":"independent"}},
    "layer":[
     {"data":{"name":"lns"},"transform":[{"filter":"datum.p=='C1'"}],"mark":{"type":"line","clip":true},"encoding":{"x":{"field":"x","type":"quantitative","scale":{"domain":[0.67,2.57],"nice":false,"zero":false},"axis":{"values":[1,1.5,2,2.5],"format":".1f","title":"PET ROI SUVR Average","labelPadding":6,"titlePadding":12,"titleFontSize":8.5}},"y":{"field":"y","type":"quantitative","scale":{"domain":[-0.28,0.26],"nice":false,"zero":false},"axis":{"values":[-0.2,0,0.2],"format":".1f","title":"PET ROI Diff (JLF Atlas vs. IM Atlas)","labelAngle":-90,"labelAlign":"center","labelBaseline":"bottom","minExtent":17,"maxExtent":17,"titlePadding":16}},"detail":{"field":"g"},"strokeDash":{"field":"g","scale":{"domain":["CS-DS","MCI-DS","DEM-DS"],"range":[[1,0],[4,2],[1,2]]},"legend":null}}},
     {"data":{"name":"pts"},"transform":[{"filter":"datum.p=='C1'"}],"mark":{"type":"point","stroke":"black","clip":true},"encoding":{"x":{"field":"x","type":"quantitative","scale":{"domain":[0.67,2.57],"nice":false,"zero":false},"axis":null},"y":{"field":"y","type":"quantitative","scale":{"domain":[-0.28,0.26],"nice":false,"zero":false},"axis":null},"shape":{"field":"g","scale":{"domain":["CS-DS","MCI-DS","DEM-DS"],"range":["circle","M-1,0H1M0,-1V1M-0.7,-0.7L0.7,0.7M-0.7,0.7L0.7,-0.7","triangle-up"]},"legend":null},"fill":{"field":"g","scale":{"domain":["CS-DS","MCI-DS","DEM-DS"],"range":["black","transparent","transparent"]},"legend":null}}},
     {"data":{"values":[{}]},"mark":{"type":"rect","fill":"white","stroke":"black","strokeWidth":0.6},"encoding":{"x":{"datum":0.76,"type":"quantitative","scale":{"domain":[0,1]},"axis":null},"x2":{"datum":0.995},"y":{"datum":0.99,"type":"quantitative","scale":{"domain":[0,1]},"axis":null},"y2":{"datum":0.61}}},
     {"data":{"name":"leg"},"transform":[{"filter":"datum.p=='C1'"}],"mark":{"type":"rule","strokeWidth":0.7},"encoding":{"x":{"datum":0.78,"type":"quantitative","scale":{"domain":[0,1]},"axis":null},"x2":{"datum":0.86},"y":{"field":"g","type":"nominal","scale":{"type":"point","domain":["CS-DS","MCI-DS","DEM-DS","a","b","c","d","e"],"padding":0.5},"axis":null},"strokeDash":{"field":"g","scale":{"domain":["CS-DS","MCI-DS","DEM-DS"],"range":[[1,0],[4,2],[1,2]]},"legend":null}}},
     {"data":{"name":"leg"},"transform":[{"filter":"datum.p=='C1'"}],"mark":{"type":"point","stroke":"black"},"encoding":{"x":{"datum":0.82,"type":"quantitative","scale":{"domain":[0,1]},"axis":null},"y":{"field":"g","type":"nominal","scale":{"type":"point","domain":["CS-DS","MCI-DS","DEM-DS","a","b","c","d","e"],"padding":0.5},"axis":null},"shape":{"field":"g","scale":{"domain":["CS-DS","MCI-DS","DEM-DS"],"range":["circle","M-1,0H1M0,-1V1M-0.7,-0.7L0.7,0.7M-0.7,0.7L0.7,-0.7","triangle-up"]},"legend":null},"fill":{"field":"g","scale":{"domain":["CS-DS","MCI-DS","DEM-DS"],"range":["black","transparent","transparent"]},"legend":null}}},
     {"data":{"name":"leg"},"transform":[{"filter":"datum.p=='C1'"}],"mark":{"type":"text","fontSize":5.5,"align":"left"},"encoding":{"x":{"datum":0.875,"type":"quantitative","scale":{"domain":[0,1]},"axis":null},"y":{"field":"g","type":"nominal","scale":{"type":"point","domain":["CS-DS","MCI-DS","DEM-DS","a","b","c","d","e"],"padding":0.5},"axis":null},"text":{"field":"g"}}}
    ]}
  ]},
  {"width":1,"height":1,"data":{"values":[]},"mark":"point"},
  {"vconcat":[
   {"width":186,"height":50,"data":{"values":[]},"mark":"point"},
   {"bounds":"flush","hconcat":[
    {"width":53,"height":60,"view":{"stroke":"black"},"data":{"name":"tbl"},"transform":[{"filter":"datum.p=='C1' && datum.r!='Overall Model'"}],"mark":{"type":"text","font":"Liberation Serif","fontWeight":"bold","fontSize":8.5},"encoding":{"y":{"field":"r","type":"nominal","sort":null,"scale":{"paddingInner":0,"paddingOuter":0},"axis":{"title":null,"labels":false,"ticks":false,"domain":false,"grid":true,"tickBand":"extent","gridColor":"black","gridOpacity":1,"gridWidth":1}},"text":{"field":"r"}}},
    {"width":133,"height":60,"view":{"stroke":"black"},"data":{"name":"tbl"},"transform":[{"filter":"datum.p=='C1' && datum.r!='Overall Model'"}],"mark":{"type":"text","font":"Liberation Serif","fontSize":6.2,"align":"left","lineBreak":"\n","lineHeight":7.5},"encoding":{"x":{"datum":0.03,"type":"quantitative","scale":{"domain":[0,1]},"axis":null},"y":{"field":"r","type":"nominal","sort":null,"scale":{"paddingInner":0,"paddingOuter":0},"axis":{"title":null,"labels":false,"ticks":false,"domain":false,"grid":true,"tickBand":"extent","gridColor":"black","gridOpacity":1,"gridWidth":1}},"text":{"field":"t"}}}
   ]},
   {"bounds":"flush","hconcat":[
    {"width":53,"height":15,"view":{"stroke":"black"},"data":{"name":"tbl"},"transform":[{"filter":"datum.p=='C1' && datum.r=='Overall Model'"}],"mark":{"type":"text","font":"Liberation Serif","fontWeight":"bold","fontSize":6.8},"encoding":{"text":{"field":"r"}}},
    {"width":133,"height":15,"view":{"stroke":"black"},"data":{"name":"tbl"},"transform":[{"filter":"datum.p=='C1' && datum.r=='Overall Model'"}],"mark":{"type":"text","font":"Liberation Serif","fontWeight":"bold","fontSize":6.1,"align":"left"},"encoding":{"x":{"datum":0.03,"type":"quantitative","scale":{"domain":[0,1]},"axis":null},"text":{"field":"t"}}}
   ]}
  ]},
  {"width":4,"height":1,"data":{"values":[]},"mark":"point"},
  {"width":1,"height":173,"data":{"values":[]},"mark":"point","view":{"fill":"#222"}}
 ]},
 {"width":438,"height":2,"data":{"values":[]},"mark":"point","view":{"fill":"#222"}},
 {"hconcat":[
  {"width":1,"height":165,"data":{"values":[]},"mark":"point","view":{"fill":"#222"}},
  {"width":8,"height":1,"data":{"values":[]},"mark":"point"},
  {"bounds":"flush","vconcat":[
   {"width":195,"height":41,"data":{"values":[]},"mark":"point"},
   {"width":195,"height":80,"view":{"stroke":"black"},"title":{"text":"InferiorTemporal","dx":-11,"dy":17},"resolve":{"scale":{"x":"independent","y":"independent"}},
    "layer":[
     {"data":{"name":"lns"},"transform":[{"filter":"datum.p=='C2'"}],"mark":{"type":"line","clip":true},"encoding":{"x":{"field":"x","type":"quantitative","scale":{"domain":[0.67,2.57],"nice":false,"zero":false},"axis":{"values":[1,1.5,2,2.5],"format":".1f","title":"PET ROI SUVR Average","labelPadding":6,"titlePadding":12,"titleFontSize":8.5}},"y":{"field":"y","type":"quantitative","scale":{"domain":[-0.28,0.26],"nice":false,"zero":false},"axis":{"values":[-0.2,0,0.2],"format":".1f","title":"PET ROI Diff (JLF Atlas vs. IM Atlas)","labelAngle":-90,"labelAlign":"center","labelBaseline":"bottom","minExtent":17,"maxExtent":17,"titlePadding":16}},"detail":{"field":"g"},"strokeDash":{"field":"g","scale":{"domain":["CS-DS","MCI-DS","DEM-DS"],"range":[[1,0],[4,2],[1,2]]},"legend":null}}},
     {"data":{"name":"pts"},"transform":[{"filter":"datum.p=='C2'"}],"mark":{"type":"point","stroke":"black","clip":true},"encoding":{"x":{"field":"x","type":"quantitative","scale":{"domain":[0.67,2.57],"nice":false,"zero":false},"axis":null},"y":{"field":"y","type":"quantitative","scale":{"domain":[-0.28,0.26],"nice":false,"zero":false},"axis":null},"shape":{"field":"g","scale":{"domain":["CS-DS","MCI-DS","DEM-DS"],"range":["circle","M-1,0H1M0,-1V1M-0.7,-0.7L0.7,0.7M-0.7,0.7L0.7,-0.7","triangle-up"]},"legend":null},"fill":{"field":"g","scale":{"domain":["CS-DS","MCI-DS","DEM-DS"],"range":["black","transparent","transparent"]},"legend":null}}},
     {"data":{"values":[{}]},"mark":{"type":"rect","fill":"white","stroke":"black","strokeWidth":0.6},"encoding":{"x":{"datum":0.76,"type":"quantitative","scale":{"domain":[0,1]},"axis":null},"x2":{"datum":0.995},"y":{"datum":0.99,"type":"quantitative","scale":{"domain":[0,1]},"axis":null},"y2":{"datum":0.61}}},
     {"data":{"name":"leg"},"transform":[{"filter":"datum.p=='C2'"}],"mark":{"type":"rule","strokeWidth":0.7},"encoding":{"x":{"datum":0.78,"type":"quantitative","scale":{"domain":[0,1]},"axis":null},"x2":{"datum":0.86},"y":{"field":"g","type":"nominal","scale":{"type":"point","domain":["CS-DS","MCI-DS","DEM-DS","a","b","c","d","e"],"padding":0.5},"axis":null},"strokeDash":{"field":"g","scale":{"domain":["CS-DS","MCI-DS","DEM-DS"],"range":[[1,0],[4,2],[1,2]]},"legend":null}}},
     {"data":{"name":"leg"},"transform":[{"filter":"datum.p=='C2'"}],"mark":{"type":"point","stroke":"black"},"encoding":{"x":{"datum":0.82,"type":"quantitative","scale":{"domain":[0,1]},"axis":null},"y":{"field":"g","type":"nominal","scale":{"type":"point","domain":["CS-DS","MCI-DS","DEM-DS","a","b","c","d","e"],"padding":0.5},"axis":null},"shape":{"field":"g","scale":{"domain":["CS-DS","MCI-DS","DEM-DS"],"range":["circle","M-1,0H1M0,-1V1M-0.7,-0.7L0.7,0.7M-0.7,0.7L0.7,-0.7","triangle-up"]},"legend":null},"fill":{"field":"g","scale":{"domain":["CS-DS","MCI-DS","DEM-DS"],"range":["black","transparent","transparent"]},"legend":null}}},
     {"data":{"name":"leg"},"transform":[{"filter":"datum.p=='C2'"}],"mark":{"type":"text","fontSize":5.5,"align":"left"},"encoding":{"x":{"datum":0.875,"type":"quantitative","scale":{"domain":[0,1]},"axis":null},"y":{"field":"g","type":"nominal","scale":{"type":"point","domain":["CS-DS","MCI-DS","DEM-DS","a","b","c","d","e"],"padding":0.5},"axis":null},"text":{"field":"g"}}}
    ]}
  ]},
  {"width":1,"height":1,"data":{"values":[]},"mark":"point"},
  {"vconcat":[
   {"width":186,"height":35,"data":{"values":[]},"mark":"point"},
   {"bounds":"flush","hconcat":[
    {"width":53,"height":67,"view":{"stroke":"black"},"data":{"name":"tbl"},"transform":[{"filter":"datum.p=='C2' && datum.r!='Overall Model'"}],"mark":{"type":"text","font":"Liberation Serif","fontWeight":"bold","fontSize":8.5},"encoding":{"y":{"field":"r","type":"nominal","sort":null,"scale":{"paddingInner":0,"paddingOuter":0},"axis":{"title":null,"labels":false,"ticks":false,"domain":false,"grid":true,"tickBand":"extent","gridColor":"black","gridOpacity":1,"gridWidth":1}},"text":{"field":"r"}}},
    {"width":133,"height":67,"view":{"stroke":"black"},"data":{"name":"tbl"},"transform":[{"filter":"datum.p=='C2' && datum.r!='Overall Model'"}],"mark":{"type":"text","font":"Liberation Serif","fontSize":6.2,"align":"left","lineBreak":"\n","lineHeight":7.5},"encoding":{"x":{"datum":0.03,"type":"quantitative","scale":{"domain":[0,1]},"axis":null},"y":{"field":"r","type":"nominal","sort":null,"scale":{"paddingInner":0,"paddingOuter":0},"axis":{"title":null,"labels":false,"ticks":false,"domain":false,"grid":true,"tickBand":"extent","gridColor":"black","gridOpacity":1,"gridWidth":1}},"text":{"field":"t"}}}
   ]},
   {"bounds":"flush","hconcat":[
    {"width":53,"height":15,"view":{"stroke":"black"},"data":{"name":"tbl"},"transform":[{"filter":"datum.p=='C2' && datum.r=='Overall Model'"}],"mark":{"type":"text","font":"Liberation Serif","fontWeight":"bold","fontSize":6.8},"encoding":{"text":{"field":"r"}}},
    {"width":133,"height":15,"view":{"stroke":"black"},"data":{"name":"tbl"},"transform":[{"filter":"datum.p=='C2' && datum.r=='Overall Model'"}],"mark":{"type":"text","font":"Liberation Serif","fontWeight":"bold","fontSize":6.1,"align":"left"},"encoding":{"x":{"datum":0.03,"type":"quantitative","scale":{"domain":[0,1]},"axis":null},"text":{"field":"t"}}}
   ]}
  ]},
  {"width":4,"height":1,"data":{"values":[]},"mark":"point"},
  {"width":1,"height":165,"data":{"values":[]},"mark":"point","view":{"fill":"#222"}}
 ]},
 {"width":438,"height":2,"data":{"values":[]},"mark":"point","view":{"fill":"#222"}},
 {"hconcat":[
  {"width":1,"height":169,"data":{"values":[]},"mark":"point","view":{"fill":"#222"}},
  {"width":8,"height":1,"data":{"values":[]},"mark":"point"},
  {"bounds":"flush","vconcat":[
   {"width":195,"height":46,"data":{"values":[]},"mark":"point"},
   {"width":195,"height":80,"view":{"stroke":"black"},"title":{"text":"MiddleTemporal","dx":-11,"dy":17},"resolve":{"scale":{"x":"independent","y":"independent"}},
    "layer":[
     {"data":{"name":"lns"},"transform":[{"filter":"datum.p=='C3'"}],"mark":{"type":"line","clip":true},"encoding":{"x":{"field":"x","type":"quantitative","scale":{"domain":[0.67,2.57],"nice":false,"zero":false},"axis":{"values":[1,1.5,2,2.5],"format":".1f","title":"PET ROI SUVR Average","labelPadding":6,"titlePadding":12,"titleFontSize":8.5}},"y":{"field":"y","type":"quantitative","scale":{"domain":[-0.28,0.26],"nice":false,"zero":false},"axis":{"values":[-0.2,0,0.2],"format":".1f","title":"PET ROI Diff (JLF Atlas vs. IM Atlas)","labelAngle":-90,"labelAlign":"center","labelBaseline":"bottom","minExtent":17,"maxExtent":17,"titlePadding":16}},"detail":{"field":"g"},"strokeDash":{"field":"g","scale":{"domain":["CS-DS","MCI-DS","DEM-DS"],"range":[[1,0],[4,2],[1,2]]},"legend":null}}},
     {"data":{"name":"pts"},"transform":[{"filter":"datum.p=='C3'"}],"mark":{"type":"point","stroke":"black","clip":true},"encoding":{"x":{"field":"x","type":"quantitative","scale":{"domain":[0.67,2.57],"nice":false,"zero":false},"axis":null},"y":{"field":"y","type":"quantitative","scale":{"domain":[-0.28,0.26],"nice":false,"zero":false},"axis":null},"shape":{"field":"g","scale":{"domain":["CS-DS","MCI-DS","DEM-DS"],"range":["circle","M-1,0H1M0,-1V1M-0.7,-0.7L0.7,0.7M-0.7,0.7L0.7,-0.7","triangle-up"]},"legend":null},"fill":{"field":"g","scale":{"domain":["CS-DS","MCI-DS","DEM-DS"],"range":["black","transparent","transparent"]},"legend":null}}},
     {"data":{"values":[{}]},"mark":{"type":"rect","fill":"white","stroke":"black","strokeWidth":0.6},"encoding":{"x":{"datum":0.76,"type":"quantitative","scale":{"domain":[0,1]},"axis":null},"x2":{"datum":0.995},"y":{"datum":0.99,"type":"quantitative","scale":{"domain":[0,1]},"axis":null},"y2":{"datum":0.61}}},
     {"data":{"name":"leg"},"transform":[{"filter":"datum.p=='C3'"}],"mark":{"type":"rule","strokeWidth":0.7},"encoding":{"x":{"datum":0.78,"type":"quantitative","scale":{"domain":[0,1]},"axis":null},"x2":{"datum":0.86},"y":{"field":"g","type":"nominal","scale":{"type":"point","domain":["CS-DS","MCI-DS","DEM-DS","a","b","c","d","e"],"padding":0.5},"axis":null},"strokeDash":{"field":"g","scale":{"domain":["CS-DS","MCI-DS","DEM-DS"],"range":[[1,0],[4,2],[1,2]]},"legend":null}}},
     {"data":{"name":"leg"},"transform":[{"filter":"datum.p=='C3'"}],"mark":{"type":"point","stroke":"black"},"encoding":{"x":{"datum":0.82,"type":"quantitative","scale":{"domain":[0,1]},"axis":null},"y":{"field":"g","type":"nominal","scale":{"type":"point","domain":["CS-DS","MCI-DS","DEM-DS","a","b","c","d","e"],"padding":0.5},"axis":null},"shape":{"field":"g","scale":{"domain":["CS-DS","MCI-DS","DEM-DS"],"range":["circle","M-1,0H1M0,-1V1M-0.7,-0.7L0.7,0.7M-0.7,0.7L0.7,-0.7","triangle-up"]},"legend":null},"fill":{"field":"g","scale":{"domain":["CS-DS","MCI-DS","DEM-DS"],"range":["black","transparent","transparent"]},"legend":null}}},
     {"data":{"name":"leg"},"transform":[{"filter":"datum.p=='C3'"}],"mark":{"type":"text","fontSize":5.5,"align":"left"},"encoding":{"x":{"datum":0.875,"type":"quantitative","scale":{"domain":[0,1]},"axis":null},"y":{"field":"g","type":"nominal","scale":{"type":"point","domain":["CS-DS","MCI-DS","DEM-DS","a","b","c","d","e"],"padding":0.5},"axis":null},"text":{"field":"g"}}}
    ]}
  ]},
  {"width":1,"height":1,"data":{"values":[]},"mark":"point"},
  {"vconcat":[
   {"width":186,"height":38,"data":{"values":[]},"mark":"point"},
   {"bounds":"flush","hconcat":[
    {"width":53,"height":72,"view":{"stroke":"black"},"data":{"name":"tbl"},"transform":[{"filter":"datum.p=='C3' && datum.r!='Overall Model'"}],"mark":{"type":"text","font":"Liberation Serif","fontWeight":"bold","fontSize":8.5},"encoding":{"y":{"field":"r","type":"nominal","sort":null,"scale":{"paddingInner":0,"paddingOuter":0},"axis":{"title":null,"labels":false,"ticks":false,"domain":false,"grid":true,"tickBand":"extent","gridColor":"black","gridOpacity":1,"gridWidth":1}},"text":{"field":"r"}}},
    {"width":133,"height":72,"view":{"stroke":"black"},"data":{"name":"tbl"},"transform":[{"filter":"datum.p=='C3' && datum.r!='Overall Model'"}],"mark":{"type":"text","font":"Liberation Serif","fontSize":6.2,"align":"left","lineBreak":"\n","lineHeight":7.5},"encoding":{"x":{"datum":0.03,"type":"quantitative","scale":{"domain":[0,1]},"axis":null},"y":{"field":"r","type":"nominal","sort":null,"scale":{"paddingInner":0,"paddingOuter":0},"axis":{"title":null,"labels":false,"ticks":false,"domain":false,"grid":true,"tickBand":"extent","gridColor":"black","gridOpacity":1,"gridWidth":1}},"text":{"field":"t"}}}
   ]},
   {"bounds":"flush","hconcat":[
    {"width":53,"height":13,"view":{"stroke":"black"},"data":{"name":"tbl"},"transform":[{"filter":"datum.p=='C3' && datum.r=='Overall Model'"}],"mark":{"type":"text","font":"Liberation Serif","fontWeight":"bold","fontSize":6.8},"encoding":{"text":{"field":"r"}}},
    {"width":133,"height":13,"view":{"stroke":"black"},"data":{"name":"tbl"},"transform":[{"filter":"datum.p=='C3' && datum.r=='Overall Model'"}],"mark":{"type":"text","font":"Liberation Serif","fontWeight":"bold","fontSize":6.1,"align":"left"},"encoding":{"x":{"datum":0.03,"type":"quantitative","scale":{"domain":[0,1]},"axis":null},"text":{"field":"t"}}}
   ]}
  ]},
  {"width":4,"height":1,"data":{"values":[]},"mark":"point"},
  {"width":1,"height":169,"data":{"values":[]},"mark":"point","view":{"fill":"#222"}}
 ]},
 {"width":438,"height":2,"data":{"values":[]},"mark":"point","view":{"fill":"#222"}},
 {"hconcat":[
  {"width":1,"height":173,"data":{"values":[]},"mark":"point","view":{"fill":"#222"}},
  {"width":8,"height":1,"data":{"values":[]},"mark":"point"},
  {"bounds":"flush","vconcat":[
   {"width":195,"height":50,"data":{"values":[]},"mark":"point"},
   {"width":195,"height":80,"view":{"stroke":"black"},"title":{"text":"EntorhinalCortex","dx":-11,"dy":17},"resolve":{"scale":{"x":"independent","y":"independent"}},
    "layer":[
     {"data":{"name":"lns"},"transform":[{"filter":"datum.p=='C4'"}],"mark":{"type":"line","clip":true},"encoding":{"x":{"field":"x","type":"quantitative","scale":{"domain":[0.67,2.57],"nice":false,"zero":false},"axis":{"values":[1,1.5,2,2.5],"format":".1f","title":"PET ROI SUVR Average","labelPadding":6,"titlePadding":12,"titleFontSize":8.5}},"y":{"field":"y","type":"quantitative","scale":{"domain":[-0.28,0.26],"nice":false,"zero":false},"axis":{"values":[-0.2,0,0.2],"format":".1f","title":"PET ROI Diff (JLF Atlas vs. IM Atlas)","labelAngle":-90,"labelAlign":"center","labelBaseline":"bottom","minExtent":17,"maxExtent":17,"titlePadding":16}},"detail":{"field":"g"},"strokeDash":{"field":"g","scale":{"domain":["CS-DS","MCI-DS","DEM-DS"],"range":[[1,0],[4,2],[1,2]]},"legend":null}}},
     {"data":{"name":"pts"},"transform":[{"filter":"datum.p=='C4'"}],"mark":{"type":"point","stroke":"black","clip":true},"encoding":{"x":{"field":"x","type":"quantitative","scale":{"domain":[0.67,2.57],"nice":false,"zero":false},"axis":null},"y":{"field":"y","type":"quantitative","scale":{"domain":[-0.28,0.26],"nice":false,"zero":false},"axis":null},"shape":{"field":"g","scale":{"domain":["CS-DS","MCI-DS","DEM-DS"],"range":["circle","M-1,0H1M0,-1V1M-0.7,-0.7L0.7,0.7M-0.7,0.7L0.7,-0.7","triangle-up"]},"legend":null},"fill":{"field":"g","scale":{"domain":["CS-DS","MCI-DS","DEM-DS"],"range":["black","transparent","transparent"]},"legend":null}}},
     {"data":{"values":[{}]},"mark":{"type":"rect","fill":"white","stroke":"black","strokeWidth":0.6},"encoding":{"x":{"datum":0.76,"type":"quantitative","scale":{"domain":[0,1]},"axis":null},"x2":{"datum":0.995},"y":{"datum":0.99,"type":"quantitative","scale":{"domain":[0,1]},"axis":null},"y2":{"datum":0.61}}},
     {"data":{"name":"leg"},"transform":[{"filter":"datum.p=='C4'"}],"mark":{"type":"rule","strokeWidth":0.7},"encoding":{"x":{"datum":0.78,"type":"quantitative","scale":{"domain":[0,1]},"axis":null},"x2":{"datum":0.86},"y":{"field":"g","type":"nominal","scale":{"type":"point","domain":["CS-DS","MCI-DS","DEM-DS","a","b","c","d","e"],"padding":0.5},"axis":null},"strokeDash":{"field":"g","scale":{"domain":["CS-DS","MCI-DS","DEM-DS"],"range":[[1,0],[4,2],[1,2]]},"legend":null}}},
     {"data":{"name":"leg"},"transform":[{"filter":"datum.p=='C4'"}],"mark":{"type":"point","stroke":"black"},"encoding":{"x":{"datum":0.82,"type":"quantitative","scale":{"domain":[0,1]},"axis":null},"y":{"field":"g","type":"nominal","scale":{"type":"point","domain":["CS-DS","MCI-DS","DEM-DS","a","b","c","d","e"],"padding":0.5},"axis":null},"shape":{"field":"g","scale":{"domain":["CS-DS","MCI-DS","DEM-DS"],"range":["circle","M-1,0H1M0,-1V1M-0.7,-0.7L0.7,0.7M-0.7,0.7L0.7,-0.7","triangle-up"]},"legend":null},"fill":{"field":"g","scale":{"domain":["CS-DS","MCI-DS","DEM-DS"],"range":["black","transparent","transparent"]},"legend":null}}},
     {"data":{"name":"leg"},"transform":[{"filter":"datum.p=='C4'"}],"mark":{"type":"text","fontSize":5.5,"align":"left"},"encoding":{"x":{"datum":0.875,"type":"quantitative","scale":{"domain":[0,1]},"axis":null},"y":{"field":"g","type":"nominal","scale":{"type":"point","domain":["CS-DS","MCI-DS","DEM-DS","a","b","c","d","e"],"padding":0.5},"axis":null},"text":{"field":"g"}}}
    ]}
  ]},
  {"width":1,"height":1,"data":{"values":[]},"mark":"point"},
  {"vconcat":[
   {"width":186,"height":48,"data":{"values":[]},"mark":"point"},
   {"bounds":"flush","hconcat":[
    {"width":53,"height":67,"view":{"stroke":"black"},"data":{"name":"tbl"},"transform":[{"filter":"datum.p=='C4' && datum.r!='Overall Model'"}],"mark":{"type":"text","font":"Liberation Serif","fontWeight":"bold","fontSize":8.5},"encoding":{"y":{"field":"r","type":"nominal","sort":null,"scale":{"paddingInner":0,"paddingOuter":0},"axis":{"title":null,"labels":false,"ticks":false,"domain":false,"grid":true,"tickBand":"extent","gridColor":"black","gridOpacity":1,"gridWidth":1}},"text":{"field":"r"}}},
    {"width":133,"height":67,"view":{"stroke":"black"},"data":{"name":"tbl"},"transform":[{"filter":"datum.p=='C4' && datum.r!='Overall Model'"}],"mark":{"type":"text","font":"Liberation Serif","fontSize":6.2,"align":"left","lineBreak":"\n","lineHeight":7.5},"encoding":{"x":{"datum":0.03,"type":"quantitative","scale":{"domain":[0,1]},"axis":null},"y":{"field":"r","type":"nominal","sort":null,"scale":{"paddingInner":0,"paddingOuter":0},"axis":{"title":null,"labels":false,"ticks":false,"domain":false,"grid":true,"tickBand":"extent","gridColor":"black","gridOpacity":1,"gridWidth":1}},"text":{"field":"t"}}}
   ]},
   {"bounds":"flush","hconcat":[
    {"width":53,"height":15,"view":{"stroke":"black"},"data":{"name":"tbl"},"transform":[{"filter":"datum.p=='C4' && datum.r=='Overall Model'"}],"mark":{"type":"text","font":"Liberation Serif","fontWeight":"bold","fontSize":6.8},"encoding":{"text":{"field":"r"}}},
    {"width":133,"height":15,"view":{"stroke":"black"},"data":{"name":"tbl"},"transform":[{"filter":"datum.p=='C4' && datum.r=='Overall Model'"}],"mark":{"type":"text","font":"Liberation Serif","fontWeight":"bold","fontSize":6.1,"align":"left"},"encoding":{"x":{"datum":0.03,"type":"quantitative","scale":{"domain":[0,1]},"axis":null},"text":{"field":"t"}}}
   ]}
  ]},
  {"width":4,"height":1,"data":{"values":[]},"mark":"point"},
  {"width":1,"height":173,"data":{"values":[]},"mark":"point","view":{"fill":"#222"}}
 ]}
]}
]
}
